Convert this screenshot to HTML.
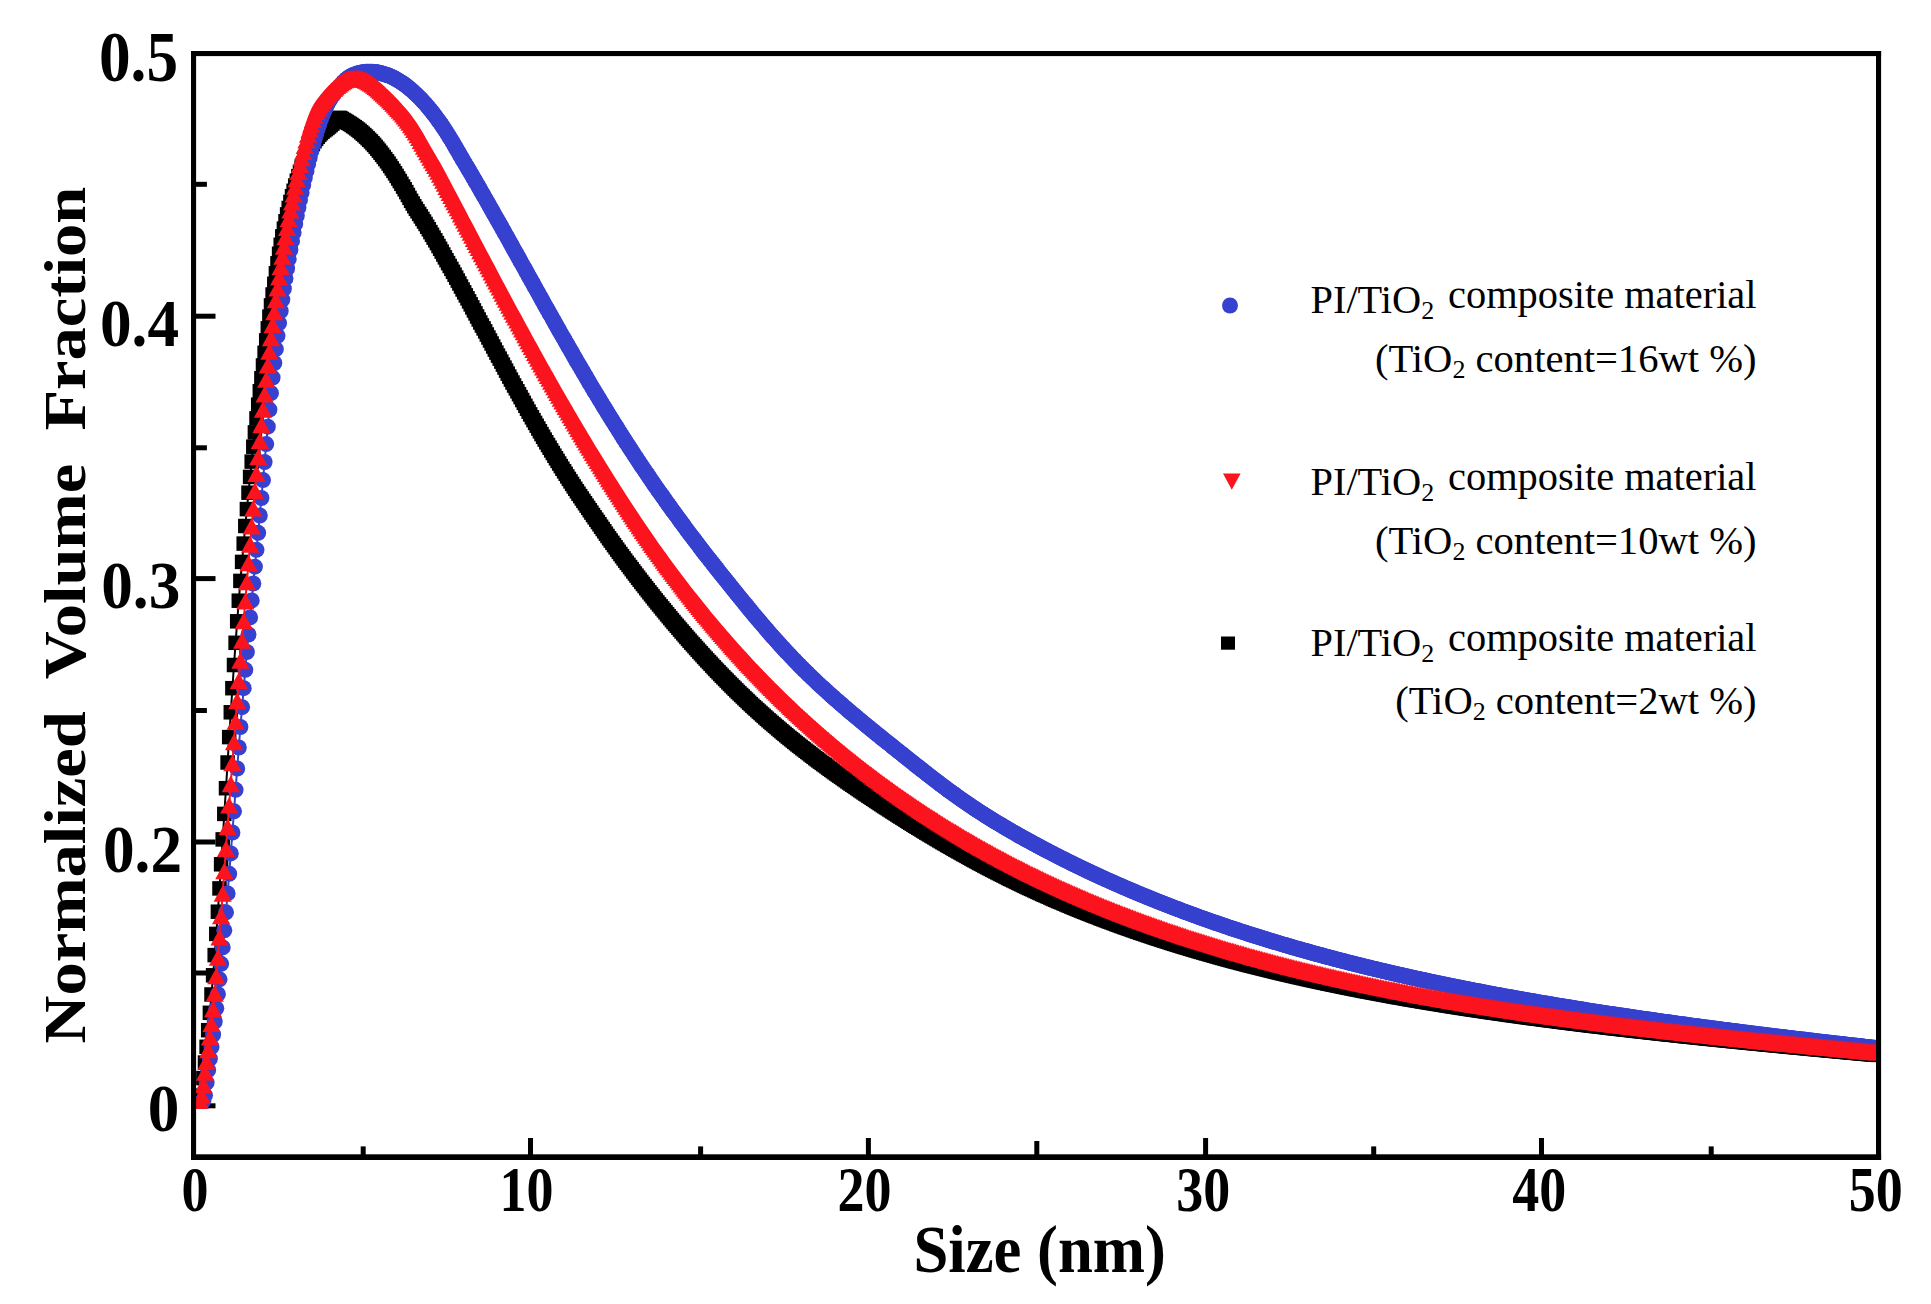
<!DOCTYPE html>
<html><head><meta charset="utf-8"><title>Normalized Volume Fraction vs Size</title>
<style>html,body{margin:0;padding:0;background:#fff}svg{display:block}text{font-family:"Liberation Serif", serif;fill:#000}</style></head><body>
<svg width="1931" height="1304" viewBox="0 0 1931 1304">
<rect x="0" y="0" width="1931" height="1304" fill="#fff"/>
<defs>
<marker id="mk" markerUnits="userSpaceOnUse" markerWidth="14.5" markerHeight="14.5" refX="7.25" refY="7.25" overflow="visible"><rect x="0" y="0" width="14.5" height="14.5" fill="#000"/></marker>
<marker id="mb" markerUnits="userSpaceOnUse" markerWidth="16" markerHeight="16" refX="8" refY="8" overflow="visible"><circle cx="8" cy="8" r="8" fill="#3741cf"/></marker>
<marker id="mr" markerUnits="userSpaceOnUse" markerWidth="18.2" markerHeight="16.6" refX="9.1" refY="7.95" overflow="visible"><path d="M9.1 0 L18.2 16.6 L0 16.6 Z" fill="#fb141e"/></marker>
<clipPath id="cp"><rect x="194" y="54" width="1684" height="1054.8"/></clipPath>
</defs>
<g fill="#000">
<rect x="194" y="313.7" width="21.5" height="5"/>
<rect x="194" y="576.1" width="21.5" height="5"/>
<rect x="194" y="839.5" width="21.5" height="5"/>
<rect x="194" y="1103.3" width="21.5" height="5"/>
<rect x="194" y="181.8" width="12.9" height="5"/>
<rect x="194" y="445.3" width="12.9" height="5"/>
<rect x="194" y="708.0" width="12.9" height="5"/>
<rect x="194" y="970.5" width="12.9" height="5"/>
<rect x="528.0" y="1138" width="5" height="18"/>
<rect x="865.9" y="1138" width="5" height="18"/>
<rect x="1203.1" y="1138" width="5" height="18"/>
<rect x="1539.0" y="1138" width="5" height="18"/>
<rect x="360.7" y="1146.4" width="5" height="10"/>
<rect x="698.1" y="1146.4" width="5" height="10"/>
<rect x="1371.2" y="1146.4" width="5" height="10"/>
<rect x="1708.7" y="1146.4" width="5" height="10"/>
<rect x="1034.3" y="1141" width="5" height="15"/>
</g>
<g clip-path="url(#cp)" fill="none" stroke-linejoin="round" stroke-linecap="round">
<polyline stroke="#000" stroke-width="13" points="300.0,171.7 301.6,167.5 303.2,163.5 304.8,159.7 306.5,156.2 308.1,152.8 309.7,149.7 311.3,146.7 312.9,143.9 314.5,141.2 316.1,138.9 317.7,136.8 319.3,134.9 320.9,133.2 322.6,131.6 324.2,130.3 325.8,129.1 327.4,127.9 329.0,126.5 330.6,125.1 332.2,123.7 333.8,122.2 335.4,120.5 337.0,119.0 338.7,118.0 340.3,118.0 341.9,119.0 343.5,120.0 345.1,120.9 346.7,121.9 348.3,122.9 349.9,123.9 351.5,124.9 353.1,126.1 354.8,127.2 356.4,128.4 358.0,129.6 359.6,130.9 361.2,132.3 362.8,133.7 364.4,135.1 366.0,136.6 367.6,138.2 369.2,139.8 370.9,141.4 372.5,143.2 374.1,144.9 375.7,146.8 377.3,148.7 378.9,150.7 380.5,152.7 382.1,154.8 383.7,156.9 385.3,159.1 387.0,161.3 388.6,163.6 390.2,166.0 391.8,168.4 393.4,170.8 395.0,173.3 396.6,175.9 398.2,178.5 399.8,181.1 401.4,183.8 403.1,186.6 404.7,189.3 406.3,192.1 407.9,195.0 409.5,197.9 411.1,200.8 412.7,203.5 414.3,206.2 415.9,208.8 417.5,211.3 419.2,213.9 420.8,216.4 422.4,218.9 424.0,221.5 425.6,224.0 427.2,226.7 428.8,229.3 430.4,232.1 432.0,234.8 433.6,237.6 435.3,240.3 436.9,243.1 438.5,246.0 440.1,248.8 441.7,251.6 443.3,254.5 444.9,257.4 446.5,260.2 448.1,263.1 449.7,266.0 451.4,268.9 453.0,271.8 454.6,274.7 456.2,277.6 457.8,280.6 459.4,283.5 461.0,286.5 462.6,289.5 464.2,292.4 465.8,295.4 467.5,298.4 469.1,301.4 470.7,304.4 472.3,307.4 473.9,310.4 475.5,313.4 477.1,316.5 478.7,319.5 480.3,322.5 481.9,325.5 483.6,328.4 485.2,331.4 486.8,334.5 488.4,337.5 490.0,340.5 491.6,343.5 493.2,346.5 494.8,349.6 496.4,352.6 498.0,355.6 499.7,358.6 501.3,361.6 502.9,364.6 504.5,367.6 506.1,370.6 507.7,373.6 509.3,376.6 510.9,379.6 512.5,382.5 514.1,385.5 515.8,388.4 517.4,391.3 519.0,394.2 520.6,397.1 522.2,400.0 523.8,402.9 525.4,405.8 527.0,408.7 528.6,411.6 530.2,414.4 531.9,417.3 533.5,420.1 535.1,422.9 536.7,425.7 538.3,428.5 539.9,431.3 541.5,434.1 543.1,436.8 544.7,439.6 546.3,442.3 548.0,445.0 549.6,447.7 551.2,450.4 552.8,453.0 554.4,455.7 556.0,458.3 557.6,460.9 559.2,463.5 560.8,466.1 562.4,468.7 564.1,471.3 565.7,473.8 567.3,476.4 568.9,478.9 570.5,481.4 572.1,483.9 573.7,486.4 575.3,488.8 576.9,491.3 578.5,493.7 580.2,496.1 581.8,498.5 583.4,500.9 585.0,503.2 586.6,505.6 588.2,507.9 589.8,510.3 591.4,512.6 593.0,515.0 594.6,517.3 596.3,519.7 597.9,522.0 599.5,524.3 601.1,526.7 602.7,529.0 604.3,531.3 605.9,533.7 607.5,536.0 609.1,538.3 610.7,540.5 612.4,542.8 614.0,545.1 615.6,547.3 617.2,549.6 618.8,551.8 620.4,554.0 622.0,556.2 623.6,558.4 625.2,560.6 626.8,562.8 628.5,564.9 630.1,567.1 631.7,569.2 633.3,571.4 634.9,573.5 636.5,575.6 638.1,577.7 639.7,579.8 641.3,581.9 642.9,584.0 644.6,586.1 646.2,588.2 647.8,590.2 649.4,592.3 651.0,594.3 652.6,596.3 654.2,598.4 655.8,600.4 657.4,602.4 659.0,604.4 660.7,606.4 662.3,608.4 663.9,610.3 665.5,612.3 667.1,614.3 668.7,616.2 670.3,618.1 671.9,620.1 673.5,622.0 675.1,623.9 676.8,625.8 678.4,627.7 680.0,629.6 681.6,631.5 683.2,633.3 684.8,635.2 686.4,637.0 688.0,638.9 689.6,640.7 691.2,642.6 692.9,644.4 694.5,646.2 696.1,648.0 697.7,649.8 699.3,651.6 700.9,653.3 702.5,655.1 704.1,656.9 705.7,658.6 707.3,660.4 709.0,662.1 710.6,663.8 712.2,665.6 713.8,667.3 715.4,669.0 717.0,670.7 718.6,672.3 720.2,674.0 721.8,675.7 723.4,677.3 725.1,679.0 726.7,680.6 728.3,682.3 729.9,683.9 731.5,685.5 733.1,687.1 734.7,688.7 736.3,690.3 737.9,691.9 739.5,693.4 741.2,695.0 742.8,696.5 744.4,698.1 746.0,699.6 747.6,701.1 749.2,702.7 750.8,704.2 752.4,705.7 754.0,707.2 755.6,708.6 757.3,710.1 758.9,711.6 760.5,713.0 762.1,714.5 763.7,715.9 765.3,717.4 766.9,718.8 768.5,720.2 770.1,721.6 771.7,723.0 773.4,724.4 775.0,725.8 776.6,727.1 778.2,728.5 779.8,729.9 781.4,731.2 783.0,732.6 784.6,733.9 786.2,735.2 787.8,736.6 789.5,737.9 791.1,739.2 792.7,740.5 794.3,741.8 795.9,743.1 797.5,744.4 799.1,745.6 800.7,746.9 802.3,748.2 803.9,749.4 805.6,750.7 807.2,751.9 808.8,753.1 810.4,754.4 812.0,755.6 813.6,756.8 815.2,758.1 816.8,759.3 818.4,760.5 820.0,761.7 821.7,762.9 823.3,764.1 824.9,765.2 826.5,766.4 828.1,767.6 829.7,768.8 831.3,769.9 832.9,771.1 834.5,772.3 836.1,773.4 837.8,774.6 839.4,775.7 841.0,776.8 842.6,778.0 844.2,779.1 845.8,780.2 847.4,781.4 849.0,782.5 850.6,783.6 852.2,784.7 853.9,785.8 855.5,786.9 857.1,788.0 858.7,789.1 860.3,790.2 861.9,791.3 863.5,792.4 865.1,793.5 866.7,794.5 868.3,795.6 870.0,796.7 871.6,797.8 873.2,798.8 874.8,799.9 876.4,801.0 878.0,802.0 879.6,803.1 881.2,804.1 882.8,805.2 884.4,806.3 886.1,807.3 887.7,808.3 889.3,809.4 890.9,810.4 892.5,811.5 894.1,812.5 895.7,813.5 897.3,814.5 898.9,815.6 900.5,816.6 902.2,817.6 903.8,818.6 905.4,819.6 907.0,820.7 908.6,821.7 910.2,822.7 911.8,823.7 913.4,824.7 915.0,825.7 916.6,826.7 918.3,827.7 919.9,828.6 921.5,829.6 923.1,830.6 924.7,831.6 926.3,832.6 927.9,833.5 929.5,834.5 931.1,835.5 932.7,836.4 934.4,837.4 936.0,838.4 937.6,839.3 939.2,840.3 940.8,841.2 942.4,842.2 944.0,843.1 945.6,844.0 947.2,845.0 948.8,845.9 950.5,846.8 952.1,847.8 953.7,848.7 955.3,849.6 956.9,850.5 958.5,851.4 960.1,852.3 961.7,853.2 963.3,854.1 964.9,855.0 966.6,855.9 968.2,856.8 969.8,857.7 971.4,858.6 973.0,859.5 974.6,860.4 976.2,861.2 977.8,862.1 979.4,863.0 981.0,863.8 982.7,864.7 984.3,865.6 985.9,866.4 987.5,867.3 989.1,868.1 990.7,868.9 992.3,869.8 993.9,870.6 995.5,871.4 997.1,872.3 998.8,873.1 1000.4,873.9 1002.0,874.7 1003.6,875.5 1005.2,876.3 1006.8,877.1 1008.4,878.0 1010.0,878.8 1011.6,879.5 1013.2,880.3 1014.9,881.1 1016.5,881.9 1018.1,882.7 1019.7,883.5 1021.3,884.2 1022.9,885.0 1024.5,885.8 1026.1,886.5 1027.7,887.3 1029.3,888.0 1031.0,888.8 1032.6,889.5 1034.2,890.3 1035.8,891.0 1037.4,891.8 1039.0,892.5 1040.6,893.2 1042.2,894.0 1043.8,894.7 1045.4,895.4 1047.1,896.1 1048.7,896.8 1050.3,897.5 1051.9,898.3 1053.5,899.0 1055.1,899.7 1056.7,900.4 1058.3,901.1 1059.9,901.7 1061.5,902.4 1063.2,903.1 1064.8,903.8 1066.4,904.5 1068.0,905.2 1069.6,905.8 1071.2,906.5 1072.8,907.2 1074.4,907.8 1076.0,908.5 1077.6,909.2 1079.3,909.8 1080.9,910.5 1082.5,911.1 1084.1,911.8 1085.7,912.4 1087.3,913.0 1088.9,913.7 1090.5,914.3 1092.1,914.9 1093.7,915.6 1095.4,916.2 1097.0,916.8 1098.6,917.4 1100.2,918.1 1101.8,918.7 1103.4,919.3 1105.0,919.9 1106.6,920.5 1108.2,921.1 1109.8,921.7 1111.5,922.3 1113.1,922.9 1114.7,923.5 1116.3,924.1 1117.9,924.7 1119.5,925.3 1121.1,925.9 1122.7,926.4 1124.3,927.0 1125.9,927.6 1127.6,928.2 1129.2,928.7 1130.8,929.3 1132.4,929.9 1134.0,930.4 1135.6,931.0 1137.2,931.6 1138.8,932.1 1140.4,932.7 1142.0,933.2 1143.7,933.8 1145.3,934.3 1146.9,934.9 1148.5,935.4 1150.1,935.9 1151.7,936.5 1153.3,937.0 1154.9,937.6 1156.5,938.1 1158.1,938.6 1159.8,939.1 1161.4,939.7 1163.0,940.2 1164.6,940.7 1166.2,941.2 1167.8,941.7 1169.4,942.2 1171.0,942.8 1172.6,943.3 1174.2,943.8 1175.9,944.3 1177.5,944.8 1179.1,945.3 1180.7,945.8 1182.3,946.3 1183.9,946.8 1185.5,947.3 1187.1,947.7 1188.7,948.2 1190.3,948.7 1192.0,949.2 1193.6,949.7 1195.2,950.2 1196.8,950.6 1198.4,951.1 1200.0,951.6 1201.6,952.0 1203.2,952.5 1204.8,953.0 1206.4,953.4 1208.1,953.9 1209.7,954.4 1211.3,954.8 1212.9,955.3 1214.5,955.7 1216.1,956.2 1217.7,956.6 1219.3,957.1 1220.9,957.5 1222.5,958.0 1224.2,958.4 1225.8,958.9 1227.4,959.3 1229.0,959.8 1230.6,960.2 1232.2,960.6 1233.8,961.1 1235.4,961.5 1237.0,961.9 1238.6,962.3 1240.3,962.8 1241.9,963.2 1243.5,963.6 1245.1,964.0 1246.7,964.5 1248.3,964.9 1249.9,965.3 1251.5,965.7 1253.1,966.1 1254.7,966.5 1256.4,966.9 1258.0,967.3 1259.6,967.7 1261.2,968.1 1262.8,968.5 1264.4,968.9 1266.0,969.3 1267.6,969.7 1269.2,970.1 1270.8,970.5 1272.5,970.9 1274.1,971.3 1275.7,971.7 1277.3,972.1 1278.9,972.5 1280.5,972.9 1282.1,973.2 1283.7,973.6 1285.3,974.0 1286.9,974.4 1288.6,974.8 1290.2,975.1 1291.8,975.5 1293.4,975.9 1295.0,976.2 1296.6,976.6 1298.2,977.0 1299.8,977.3 1301.4,977.7 1303.0,978.1 1304.7,978.4 1306.3,978.8 1307.9,979.2 1309.5,979.5 1311.1,979.9 1312.7,980.2 1314.3,980.6 1315.9,980.9 1317.5,981.3 1319.1,981.6 1320.8,982.0 1322.4,982.3 1324.0,982.7 1325.6,983.0 1327.2,983.4 1328.8,983.7 1330.4,984.0 1332.0,984.4 1333.6,984.7 1335.2,985.0 1336.9,985.4 1338.5,985.7 1340.1,986.0 1341.7,986.4 1343.3,986.7 1344.9,987.0 1346.5,987.4 1348.1,987.7 1349.7,988.0 1351.3,988.3 1353.0,988.6 1354.6,989.0 1356.2,989.3 1357.8,989.6 1359.4,989.9 1361.0,990.2 1362.6,990.6 1364.2,990.9 1365.8,991.2 1367.4,991.5 1369.1,991.8 1370.7,992.1 1372.3,992.4 1373.9,992.7 1375.5,993.0 1377.1,993.3 1378.7,993.6 1380.3,993.9 1381.9,994.2 1383.5,994.5 1385.2,994.8 1386.8,995.1 1388.4,995.4 1390.0,995.7 1391.6,996.0 1393.2,996.3 1394.8,996.6 1396.4,996.9 1398.0,997.2 1399.6,997.4 1401.3,997.7 1402.9,998.0 1404.5,998.3 1406.1,998.6 1407.7,998.9 1409.3,999.2 1410.9,999.4 1412.5,999.7 1414.1,1000.0 1415.7,1000.3 1417.4,1000.5 1419.0,1000.8 1420.6,1001.1 1422.2,1001.4 1423.8,1001.6 1425.4,1001.9 1427.0,1002.2 1428.6,1002.4 1430.2,1002.7 1431.8,1003.0 1433.5,1003.2 1435.1,1003.5 1436.7,1003.8 1438.3,1004.0 1439.9,1004.3 1441.5,1004.6 1443.1,1004.8 1444.7,1005.1 1446.3,1005.3 1447.9,1005.6 1449.6,1005.9 1451.2,1006.1 1452.8,1006.4 1454.4,1006.6 1456.0,1006.9 1457.6,1007.1 1459.2,1007.4 1460.8,1007.6 1462.4,1007.9 1464.0,1008.1 1465.7,1008.4 1467.3,1008.6 1468.9,1008.9 1470.5,1009.1 1472.1,1009.4 1473.7,1009.6 1475.3,1009.8 1476.9,1010.1 1478.5,1010.3 1480.1,1010.6 1481.8,1010.8 1483.4,1011.0 1485.0,1011.3 1486.6,1011.5 1488.2,1011.8 1489.8,1012.0 1491.4,1012.2 1493.0,1012.5 1494.6,1012.7 1496.2,1012.9 1497.9,1013.2 1499.5,1013.4 1501.1,1013.6 1502.7,1013.8 1504.3,1014.1 1505.9,1014.3 1507.5,1014.5 1509.1,1014.8 1510.7,1015.0 1512.3,1015.2 1514.0,1015.4 1515.6,1015.7 1517.2,1015.9 1518.8,1016.1 1520.4,1016.3 1522.0,1016.5 1523.6,1016.8 1525.2,1017.0 1526.8,1017.2 1528.4,1017.4 1530.1,1017.6 1531.7,1017.9 1533.3,1018.1 1534.9,1018.3 1536.5,1018.5 1538.1,1018.7 1539.7,1018.9 1541.3,1019.1 1542.9,1019.4 1544.5,1019.6 1546.2,1019.8 1547.8,1020.0 1549.4,1020.2 1551.0,1020.4 1552.6,1020.6 1554.2,1020.8 1555.8,1021.0 1557.4,1021.2 1559.0,1021.5 1560.6,1021.7 1562.3,1021.9 1563.9,1022.1 1565.5,1022.3 1567.1,1022.5 1568.7,1022.7 1570.3,1022.9 1571.9,1023.1 1573.5,1023.3 1575.1,1023.5 1576.7,1023.7 1578.4,1023.9 1580.0,1024.1 1581.6,1024.3 1583.2,1024.5 1584.8,1024.7 1586.4,1024.9 1588.0,1025.1 1589.6,1025.3 1591.2,1025.5 1592.8,1025.7 1594.5,1025.9 1596.1,1026.1 1597.7,1026.2 1599.3,1026.4 1600.9,1026.6 1602.5,1026.8 1604.1,1027.0 1605.7,1027.2 1607.3,1027.4 1608.9,1027.6 1610.6,1027.8 1612.2,1028.0 1613.8,1028.2 1615.4,1028.3 1617.0,1028.5 1618.6,1028.7 1620.2,1028.9 1621.8,1029.1 1623.4,1029.3 1625.0,1029.5 1626.7,1029.7 1628.3,1029.8 1629.9,1030.0 1631.5,1030.2 1633.1,1030.4 1634.7,1030.6 1636.3,1030.8 1637.9,1030.9 1639.5,1031.1 1641.1,1031.3 1642.8,1031.5 1644.4,1031.7 1646.0,1031.8 1647.6,1032.0 1649.2,1032.2 1650.8,1032.4 1652.4,1032.6 1654.0,1032.7 1655.6,1032.9 1657.2,1033.1 1658.9,1033.3 1660.5,1033.4 1662.1,1033.6 1663.7,1033.8 1665.3,1034.0 1666.9,1034.2 1668.5,1034.3 1670.1,1034.5 1671.7,1034.7 1673.3,1034.8 1675.0,1035.0 1676.6,1035.2 1678.2,1035.4 1679.8,1035.5 1681.4,1035.7 1683.0,1035.9 1684.6,1036.1 1686.2,1036.2 1687.8,1036.4 1689.4,1036.6 1691.1,1036.7 1692.7,1036.9 1694.3,1037.1 1695.9,1037.2 1697.5,1037.4 1699.1,1037.6 1700.7,1037.8 1702.3,1037.9 1703.9,1038.1 1705.5,1038.3 1707.2,1038.4 1708.8,1038.6 1710.4,1038.8 1712.0,1038.9 1713.6,1039.1 1715.2,1039.3 1716.8,1039.4 1718.4,1039.6 1720.0,1039.8 1721.6,1039.9 1723.3,1040.1 1724.9,1040.2 1726.5,1040.4 1728.1,1040.6 1729.7,1040.7 1731.3,1040.9 1732.9,1041.1 1734.5,1041.2 1736.1,1041.4 1737.7,1041.5 1739.4,1041.7 1741.0,1041.9 1742.6,1042.0 1744.2,1042.2 1745.8,1042.4 1747.4,1042.5 1749.0,1042.7 1750.6,1042.8 1752.2,1043.0 1753.8,1043.2 1755.5,1043.3 1757.1,1043.5 1758.7,1043.6 1760.3,1043.8 1761.9,1043.9 1763.5,1044.1 1765.1,1044.3 1766.7,1044.4 1768.3,1044.6 1769.9,1044.7 1771.6,1044.9 1773.2,1045.0 1774.8,1045.2 1776.4,1045.4 1778.0,1045.5 1779.6,1045.7 1781.2,1045.8 1782.8,1046.0 1784.4,1046.1 1786.0,1046.3 1787.7,1046.4 1789.3,1046.6 1790.9,1046.8 1792.5,1046.9 1794.1,1047.1 1795.7,1047.2 1797.3,1047.4 1798.9,1047.5 1800.5,1047.7 1802.1,1047.8 1803.8,1048.0 1805.4,1048.1 1807.0,1048.3 1808.6,1048.4 1810.2,1048.6 1811.8,1048.8 1813.4,1048.9 1815.0,1049.1 1816.6,1049.2 1818.2,1049.4 1819.9,1049.5 1821.5,1049.7 1823.1,1049.8 1824.7,1050.0 1826.3,1050.1 1827.9,1050.3 1829.5,1050.4 1831.1,1050.6 1832.7,1050.7 1834.3,1050.9 1836.0,1051.0 1837.6,1051.2 1839.2,1051.3 1840.8,1051.5 1842.4,1051.6 1844.0,1051.8 1845.6,1051.9 1847.2,1052.1 1848.8,1052.2 1850.4,1052.4 1852.1,1052.5 1853.7,1052.7 1855.3,1052.8 1856.9,1053.0 1858.5,1053.1 1860.1,1053.3 1861.7,1053.4 1863.3,1053.6 1864.9,1053.7 1866.5,1053.9 1868.2,1054.0 1869.8,1054.1 1871.4,1054.3 1873.0,1054.4 1874.6,1054.6 1876.2,1054.7 1877.8,1054.9"/>
<polyline stroke="#000" stroke-width="2" marker-start="url(#mk)" marker-mid="url(#mk)" marker-end="url(#mk)" points="193.8,1105.5 195.4,1105.4 197.0,1104.9 198.6,1103.7 200.2,1101.6 201.8,1095.7 203.4,1078.1 205.0,1062.6 206.6,1046.8 208.2,1030.2 209.9,1012.8 211.5,994.5 213.1,975.3 214.7,955.1 216.3,933.9 217.9,911.7 219.5,888.4 221.1,864.3 222.7,839.4 224.3,813.9 226.0,788.2 227.6,762.5 229.2,737.1 230.8,712.3 232.4,688.2 234.0,665.0 235.6,642.8 237.2,621.3 238.8,600.7 240.4,580.9 242.1,561.9 243.7,543.6 245.3,526.0 246.9,509.1 248.5,492.7 250.1,476.9 251.7,461.6 253.3,446.7 254.9,432.4 256.5,418.4 258.2,404.7 259.8,391.3 261.4,378.3 263.0,365.5 264.6,352.8 266.2,340.4 267.8,328.3 269.4,316.6 271.0,305.4 272.6,294.5 274.3,283.8 275.9,273.3 277.5,263.3 279.1,253.8 280.7,244.8 282.3,236.4 283.9,228.6 285.5,221.3 287.1,214.4 288.7,208.0 290.4,201.9 292.0,196.2 293.6,190.8 295.2,185.6 296.8,180.7 298.4,176.1 300.0,171.7 301.6,167.5 303.2,163.5 304.8,159.7 306.5,156.2 308.1,152.8 309.7,149.7 311.3,146.7 312.9,143.9 314.5,141.2 316.1,138.9 317.7,136.8 319.3,134.9 320.9,133.2 322.6,131.6 324.2,130.3 325.8,129.1 327.4,127.9 329.0,126.5 330.6,125.1 332.2,123.7 333.8,122.2 335.4,120.5 337.0,119.0 338.7,118.0 340.3,118.0 341.9,119.0 343.5,120.0 345.1,120.9 346.7,121.9 348.3,122.9 349.9,123.9 351.5,124.9 353.1,126.1 354.8,127.2 356.4,128.4 358.0,129.6 359.6,130.9 361.2,132.3 362.8,133.7 364.4,135.1 366.0,136.6 367.6,138.2 369.2,139.8 370.9,141.4 372.5,143.2 374.1,144.9 375.7,146.8 377.3,148.7 378.9,150.7 380.5,152.7 382.1,154.8 383.7,156.9 385.3,159.1 387.0,161.3 388.6,163.6 390.2,166.0 391.8,168.4 393.4,170.8 395.0,173.3 396.6,175.9 398.2,178.5 399.8,181.1 401.4,183.8 403.1,186.6 404.7,189.3 406.3,192.1 407.9,195.0 409.5,197.9 411.1,200.8 412.7,203.5 414.3,206.2 415.9,208.8 417.5,211.3 419.2,213.9 420.8,216.4 422.4,218.9 424.0,221.5 425.6,224.0 427.2,226.7 428.8,229.3 430.4,232.1 432.0,234.8 433.6,237.6 435.3,240.3 436.9,243.1 438.5,246.0 440.1,248.8 441.7,251.6 443.3,254.5 444.9,257.4 446.5,260.2 448.1,263.1 449.7,266.0 451.4,268.9 453.0,271.8 454.6,274.7 456.2,277.6 457.8,280.6 459.4,283.5 461.0,286.5 462.6,289.5 464.2,292.4 465.8,295.4 467.5,298.4 469.1,301.4 470.7,304.4 472.3,307.4 473.9,310.4 475.5,313.4 477.1,316.5 478.7,319.5 480.3,322.5 481.9,325.5 483.6,328.4 485.2,331.4 486.8,334.5 488.4,337.5 490.0,340.5 491.6,343.5 493.2,346.5 494.8,349.6 496.4,352.6 498.0,355.6 499.7,358.6 501.3,361.6 502.9,364.6 504.5,367.6 506.1,370.6 507.7,373.6 509.3,376.6 510.9,379.6 512.5,382.5 514.1,385.5 515.8,388.4 517.4,391.3 519.0,394.2 520.6,397.1 522.2,400.0 523.8,402.9 525.4,405.8 527.0,408.7 528.6,411.6 530.2,414.4 531.9,417.3 533.5,420.1 535.1,422.9 536.7,425.7 538.3,428.5 539.9,431.3 541.5,434.1 543.1,436.8 544.7,439.6 546.3,442.3 548.0,445.0 549.6,447.7 551.2,450.4 552.8,453.0 554.4,455.7 556.0,458.3 557.6,460.9 559.2,463.5 560.8,466.1 562.4,468.7 564.1,471.3 565.7,473.8 567.3,476.4 568.9,478.9 570.5,481.4 572.1,483.9 573.7,486.4 575.3,488.8 576.9,491.3 578.5,493.7 580.2,496.1 581.8,498.5 583.4,500.9 585.0,503.2 586.6,505.6 588.2,507.9 589.8,510.3 591.4,512.6 593.0,515.0 594.6,517.3 596.3,519.7 597.9,522.0 599.5,524.3 601.1,526.7 602.7,529.0 604.3,531.3 605.9,533.7 607.5,536.0 609.1,538.3 610.7,540.5 612.4,542.8 614.0,545.1 615.6,547.3 617.2,549.6 618.8,551.8 620.4,554.0 622.0,556.2 623.6,558.4 625.2,560.6 626.8,562.8 628.5,564.9 630.1,567.1 631.7,569.2 633.3,571.4 634.9,573.5 636.5,575.6 638.1,577.7 639.7,579.8 641.3,581.9 642.9,584.0 644.6,586.1 646.2,588.2 647.8,590.2 649.4,592.3 651.0,594.3 652.6,596.3 654.2,598.4 655.8,600.4 657.4,602.4 659.0,604.4 660.7,606.4 662.3,608.4 663.9,610.3 665.5,612.3 667.1,614.3 668.7,616.2 670.3,618.1 671.9,620.1 673.5,622.0 675.1,623.9 676.8,625.8 678.4,627.7 680.0,629.6 681.6,631.5 683.2,633.3 684.8,635.2 686.4,637.0 688.0,638.9 689.6,640.7 691.2,642.6 692.9,644.4 694.5,646.2 696.1,648.0 697.7,649.8 699.3,651.6 700.9,653.3 702.5,655.1 704.1,656.9 705.7,658.6 707.3,660.4 709.0,662.1 710.6,663.8 712.2,665.6 713.8,667.3 715.4,669.0 717.0,670.7 718.6,672.3 720.2,674.0 721.8,675.7 723.4,677.3 725.1,679.0 726.7,680.6 728.3,682.3 729.9,683.9 731.5,685.5 733.1,687.1 734.7,688.7 736.3,690.3 737.9,691.9 739.5,693.4 741.2,695.0 742.8,696.5 744.4,698.1 746.0,699.6 747.6,701.1 749.2,702.7 750.8,704.2 752.4,705.7 754.0,707.2 755.6,708.6 757.3,710.1 758.9,711.6 760.5,713.0 762.1,714.5 763.7,715.9 765.3,717.4 766.9,718.8 768.5,720.2 770.1,721.6 771.7,723.0 773.4,724.4 775.0,725.8 776.6,727.1 778.2,728.5 779.8,729.9 781.4,731.2 783.0,732.6 784.6,733.9 786.2,735.2 787.8,736.6 789.5,737.9 791.1,739.2 792.7,740.5 794.3,741.8 795.9,743.1 797.5,744.4 799.1,745.6 800.7,746.9 802.3,748.2 803.9,749.4 805.6,750.7 807.2,751.9 808.8,753.1 810.4,754.4 812.0,755.6 813.6,756.8 815.2,758.1 816.8,759.3 818.4,760.5 820.0,761.7 821.7,762.9 823.3,764.1 824.9,765.2 826.5,766.4 828.1,767.6 829.7,768.8 831.3,769.9 832.9,771.1 834.5,772.3 836.1,773.4 837.8,774.6 839.4,775.7 841.0,776.8 842.6,778.0 844.2,779.1 845.8,780.2 847.4,781.4 849.0,782.5 850.6,783.6 852.2,784.7 853.9,785.8 855.5,786.9 857.1,788.0 858.7,789.1 860.3,790.2 861.9,791.3 863.5,792.4 865.1,793.5 866.7,794.5 868.3,795.6 870.0,796.7 871.6,797.8 873.2,798.8 874.8,799.9 876.4,801.0 878.0,802.0 879.6,803.1 881.2,804.1 882.8,805.2 884.4,806.3 886.1,807.3 887.7,808.3 889.3,809.4 890.9,810.4 892.5,811.5 894.1,812.5 895.7,813.5 897.3,814.5 898.9,815.6 900.5,816.6 902.2,817.6 903.8,818.6 905.4,819.6 907.0,820.7 908.6,821.7 910.2,822.7 911.8,823.7 913.4,824.7 915.0,825.7 916.6,826.7 918.3,827.7 919.9,828.6 921.5,829.6 923.1,830.6 924.7,831.6 926.3,832.6 927.9,833.5 929.5,834.5 931.1,835.5 932.7,836.4 934.4,837.4 936.0,838.4 937.6,839.3 939.2,840.3 940.8,841.2 942.4,842.2 944.0,843.1 945.6,844.0 947.2,845.0 948.8,845.9 950.5,846.8 952.1,847.8 953.7,848.7 955.3,849.6 956.9,850.5 958.5,851.4 960.1,852.3 961.7,853.2 963.3,854.1 964.9,855.0 966.6,855.9 968.2,856.8 969.8,857.7 971.4,858.6 973.0,859.5 974.6,860.4 976.2,861.2 977.8,862.1 979.4,863.0 981.0,863.8 982.7,864.7 984.3,865.6 985.9,866.4 987.5,867.3 989.1,868.1 990.7,868.9 992.3,869.8 993.9,870.6 995.5,871.4 997.1,872.3 998.8,873.1 1000.4,873.9 1002.0,874.7 1003.6,875.5 1005.2,876.3 1006.8,877.1 1008.4,878.0 1010.0,878.8 1011.6,879.5 1013.2,880.3 1014.9,881.1 1016.5,881.9 1018.1,882.7 1019.7,883.5 1021.3,884.2 1022.9,885.0 1024.5,885.8 1026.1,886.5 1027.7,887.3 1029.3,888.0 1031.0,888.8 1032.6,889.5 1034.2,890.3 1035.8,891.0 1037.4,891.8 1039.0,892.5 1040.6,893.2 1042.2,894.0 1043.8,894.7 1045.4,895.4 1047.1,896.1 1048.7,896.8 1050.3,897.5 1051.9,898.3 1053.5,899.0 1055.1,899.7 1056.7,900.4 1058.3,901.1 1059.9,901.7 1061.5,902.4 1063.2,903.1 1064.8,903.8 1066.4,904.5 1068.0,905.2 1069.6,905.8 1071.2,906.5 1072.8,907.2 1074.4,907.8 1076.0,908.5 1077.6,909.2 1079.3,909.8 1080.9,910.5 1082.5,911.1 1084.1,911.8 1085.7,912.4 1087.3,913.0 1088.9,913.7 1090.5,914.3 1092.1,914.9 1093.7,915.6 1095.4,916.2 1097.0,916.8 1098.6,917.4 1100.2,918.1 1101.8,918.7 1103.4,919.3 1105.0,919.9 1106.6,920.5 1108.2,921.1 1109.8,921.7 1111.5,922.3 1113.1,922.9 1114.7,923.5 1116.3,924.1 1117.9,924.7 1119.5,925.3 1121.1,925.9 1122.7,926.4 1124.3,927.0 1125.9,927.6 1127.6,928.2 1129.2,928.7 1130.8,929.3 1132.4,929.9 1134.0,930.4 1135.6,931.0 1137.2,931.6 1138.8,932.1 1140.4,932.7 1142.0,933.2 1143.7,933.8 1145.3,934.3 1146.9,934.9 1148.5,935.4 1150.1,935.9 1151.7,936.5 1153.3,937.0 1154.9,937.6 1156.5,938.1 1158.1,938.6 1159.8,939.1 1161.4,939.7 1163.0,940.2 1164.6,940.7 1166.2,941.2 1167.8,941.7 1169.4,942.2 1171.0,942.8 1172.6,943.3 1174.2,943.8 1175.9,944.3 1177.5,944.8 1179.1,945.3 1180.7,945.8 1182.3,946.3 1183.9,946.8 1185.5,947.3 1187.1,947.7 1188.7,948.2 1190.3,948.7 1192.0,949.2 1193.6,949.7 1195.2,950.2 1196.8,950.6 1198.4,951.1 1200.0,951.6 1201.6,952.0 1203.2,952.5 1204.8,953.0 1206.4,953.4 1208.1,953.9 1209.7,954.4 1211.3,954.8 1212.9,955.3 1214.5,955.7 1216.1,956.2 1217.7,956.6 1219.3,957.1 1220.9,957.5 1222.5,958.0 1224.2,958.4 1225.8,958.9 1227.4,959.3 1229.0,959.8 1230.6,960.2 1232.2,960.6 1233.8,961.1 1235.4,961.5 1237.0,961.9 1238.6,962.3 1240.3,962.8 1241.9,963.2 1243.5,963.6 1245.1,964.0 1246.7,964.5 1248.3,964.9 1249.9,965.3 1251.5,965.7 1253.1,966.1 1254.7,966.5 1256.4,966.9 1258.0,967.3 1259.6,967.7 1261.2,968.1 1262.8,968.5 1264.4,968.9 1266.0,969.3 1267.6,969.7 1269.2,970.1 1270.8,970.5 1272.5,970.9 1274.1,971.3 1275.7,971.7 1277.3,972.1 1278.9,972.5 1280.5,972.9 1282.1,973.2 1283.7,973.6 1285.3,974.0 1286.9,974.4 1288.6,974.8 1290.2,975.1 1291.8,975.5 1293.4,975.9 1295.0,976.2 1296.6,976.6 1298.2,977.0 1299.8,977.3 1301.4,977.7 1303.0,978.1 1304.7,978.4 1306.3,978.8 1307.9,979.2 1309.5,979.5 1311.1,979.9 1312.7,980.2 1314.3,980.6 1315.9,980.9 1317.5,981.3 1319.1,981.6 1320.8,982.0 1322.4,982.3 1324.0,982.7 1325.6,983.0 1327.2,983.4 1328.8,983.7 1330.4,984.0 1332.0,984.4 1333.6,984.7 1335.2,985.0 1336.9,985.4 1338.5,985.7 1340.1,986.0 1341.7,986.4 1343.3,986.7 1344.9,987.0 1346.5,987.4 1348.1,987.7 1349.7,988.0 1351.3,988.3 1353.0,988.6 1354.6,989.0 1356.2,989.3 1357.8,989.6 1359.4,989.9 1361.0,990.2 1362.6,990.6 1364.2,990.9 1365.8,991.2 1367.4,991.5 1369.1,991.8 1370.7,992.1 1372.3,992.4 1373.9,992.7 1375.5,993.0 1377.1,993.3 1378.7,993.6 1380.3,993.9 1381.9,994.2 1383.5,994.5 1385.2,994.8 1386.8,995.1 1388.4,995.4 1390.0,995.7 1391.6,996.0 1393.2,996.3 1394.8,996.6 1396.4,996.9 1398.0,997.2 1399.6,997.4 1401.3,997.7 1402.9,998.0 1404.5,998.3 1406.1,998.6 1407.7,998.9 1409.3,999.2 1410.9,999.4 1412.5,999.7 1414.1,1000.0 1415.7,1000.3 1417.4,1000.5 1419.0,1000.8 1420.6,1001.1 1422.2,1001.4 1423.8,1001.6 1425.4,1001.9 1427.0,1002.2 1428.6,1002.4 1430.2,1002.7 1431.8,1003.0 1433.5,1003.2 1435.1,1003.5 1436.7,1003.8 1438.3,1004.0 1439.9,1004.3 1441.5,1004.6 1443.1,1004.8 1444.7,1005.1 1446.3,1005.3 1447.9,1005.6 1449.6,1005.9 1451.2,1006.1 1452.8,1006.4 1454.4,1006.6 1456.0,1006.9 1457.6,1007.1 1459.2,1007.4 1460.8,1007.6 1462.4,1007.9 1464.0,1008.1 1465.7,1008.4 1467.3,1008.6 1468.9,1008.9 1470.5,1009.1 1472.1,1009.4 1473.7,1009.6 1475.3,1009.8 1476.9,1010.1 1478.5,1010.3 1480.1,1010.6 1481.8,1010.8 1483.4,1011.0 1485.0,1011.3 1486.6,1011.5 1488.2,1011.8 1489.8,1012.0 1491.4,1012.2 1493.0,1012.5 1494.6,1012.7 1496.2,1012.9 1497.9,1013.2 1499.5,1013.4 1501.1,1013.6 1502.7,1013.8 1504.3,1014.1 1505.9,1014.3 1507.5,1014.5 1509.1,1014.8 1510.7,1015.0 1512.3,1015.2 1514.0,1015.4 1515.6,1015.7 1517.2,1015.9 1518.8,1016.1 1520.4,1016.3 1522.0,1016.5 1523.6,1016.8 1525.2,1017.0 1526.8,1017.2 1528.4,1017.4 1530.1,1017.6 1531.7,1017.9 1533.3,1018.1 1534.9,1018.3 1536.5,1018.5 1538.1,1018.7 1539.7,1018.9 1541.3,1019.1 1542.9,1019.4 1544.5,1019.6 1546.2,1019.8 1547.8,1020.0 1549.4,1020.2 1551.0,1020.4 1552.6,1020.6 1554.2,1020.8 1555.8,1021.0 1557.4,1021.2 1559.0,1021.5 1560.6,1021.7 1562.3,1021.9 1563.9,1022.1 1565.5,1022.3 1567.1,1022.5 1568.7,1022.7 1570.3,1022.9 1571.9,1023.1 1573.5,1023.3 1575.1,1023.5 1576.7,1023.7 1578.4,1023.9 1580.0,1024.1 1581.6,1024.3 1583.2,1024.5 1584.8,1024.7 1586.4,1024.9 1588.0,1025.1 1589.6,1025.3 1591.2,1025.5 1592.8,1025.7 1594.5,1025.9 1596.1,1026.1 1597.7,1026.2 1599.3,1026.4 1600.9,1026.6 1602.5,1026.8 1604.1,1027.0 1605.7,1027.2 1607.3,1027.4 1608.9,1027.6 1610.6,1027.8 1612.2,1028.0 1613.8,1028.2 1615.4,1028.3 1617.0,1028.5 1618.6,1028.7 1620.2,1028.9 1621.8,1029.1 1623.4,1029.3 1625.0,1029.5 1626.7,1029.7 1628.3,1029.8 1629.9,1030.0 1631.5,1030.2 1633.1,1030.4 1634.7,1030.6 1636.3,1030.8 1637.9,1030.9 1639.5,1031.1 1641.1,1031.3 1642.8,1031.5 1644.4,1031.7 1646.0,1031.8 1647.6,1032.0 1649.2,1032.2 1650.8,1032.4 1652.4,1032.6 1654.0,1032.7 1655.6,1032.9 1657.2,1033.1 1658.9,1033.3 1660.5,1033.4 1662.1,1033.6 1663.7,1033.8 1665.3,1034.0 1666.9,1034.2 1668.5,1034.3 1670.1,1034.5 1671.7,1034.7 1673.3,1034.8 1675.0,1035.0 1676.6,1035.2 1678.2,1035.4 1679.8,1035.5 1681.4,1035.7 1683.0,1035.9 1684.6,1036.1 1686.2,1036.2 1687.8,1036.4 1689.4,1036.6 1691.1,1036.7 1692.7,1036.9 1694.3,1037.1 1695.9,1037.2 1697.5,1037.4 1699.1,1037.6 1700.7,1037.8 1702.3,1037.9 1703.9,1038.1 1705.5,1038.3 1707.2,1038.4 1708.8,1038.6 1710.4,1038.8 1712.0,1038.9 1713.6,1039.1 1715.2,1039.3 1716.8,1039.4 1718.4,1039.6 1720.0,1039.8 1721.6,1039.9 1723.3,1040.1 1724.9,1040.2 1726.5,1040.4 1728.1,1040.6 1729.7,1040.7 1731.3,1040.9 1732.9,1041.1 1734.5,1041.2 1736.1,1041.4 1737.7,1041.5 1739.4,1041.7 1741.0,1041.9 1742.6,1042.0 1744.2,1042.2 1745.8,1042.4 1747.4,1042.5 1749.0,1042.7 1750.6,1042.8 1752.2,1043.0 1753.8,1043.2 1755.5,1043.3 1757.1,1043.5 1758.7,1043.6 1760.3,1043.8 1761.9,1043.9 1763.5,1044.1 1765.1,1044.3 1766.7,1044.4 1768.3,1044.6 1769.9,1044.7 1771.6,1044.9 1773.2,1045.0 1774.8,1045.2 1776.4,1045.4 1778.0,1045.5 1779.6,1045.7 1781.2,1045.8 1782.8,1046.0 1784.4,1046.1 1786.0,1046.3 1787.7,1046.4 1789.3,1046.6 1790.9,1046.8 1792.5,1046.9 1794.1,1047.1 1795.7,1047.2 1797.3,1047.4 1798.9,1047.5 1800.5,1047.7 1802.1,1047.8 1803.8,1048.0 1805.4,1048.1 1807.0,1048.3 1808.6,1048.4 1810.2,1048.6 1811.8,1048.8 1813.4,1048.9 1815.0,1049.1 1816.6,1049.2 1818.2,1049.4 1819.9,1049.5 1821.5,1049.7 1823.1,1049.8 1824.7,1050.0 1826.3,1050.1 1827.9,1050.3 1829.5,1050.4 1831.1,1050.6 1832.7,1050.7 1834.3,1050.9 1836.0,1051.0 1837.6,1051.2 1839.2,1051.3 1840.8,1051.5 1842.4,1051.6 1844.0,1051.8 1845.6,1051.9 1847.2,1052.1 1848.8,1052.2 1850.4,1052.4 1852.1,1052.5 1853.7,1052.7 1855.3,1052.8 1856.9,1053.0 1858.5,1053.1 1860.1,1053.3 1861.7,1053.4 1863.3,1053.6 1864.9,1053.7 1866.5,1053.9 1868.2,1054.0 1869.8,1054.1 1871.4,1054.3 1873.0,1054.4 1874.6,1054.6 1876.2,1054.7 1877.8,1054.9"/>
<polyline stroke="#3741cf" stroke-width="15" points="312.9,145.2 314.5,139.3 316.1,133.9 317.7,128.7 319.3,123.9 320.9,119.3 322.6,115.1 324.2,111.2 325.8,107.6 327.4,104.3 329.0,101.3 330.6,98.6 332.2,96.1 333.8,93.8 335.4,91.6 337.0,89.5 338.7,87.6 340.3,85.6 341.9,83.8 343.5,82.0 345.1,80.4 346.7,79.0 348.3,77.7 349.9,76.7 351.5,75.8 353.1,75.0 354.8,74.4 356.4,73.8 358.0,73.3 359.6,72.9 361.2,72.6 362.8,72.2 364.4,72.0 366.0,71.8 367.6,71.8 369.2,71.8 370.9,71.8 372.5,71.8 374.1,71.9 375.7,72.1 377.3,72.3 378.9,72.7 380.5,73.1 382.1,73.5 383.7,74.0 385.3,74.5 387.0,75.0 388.6,75.5 390.2,76.2 391.8,76.9 393.4,77.7 395.0,78.6 396.6,79.5 398.2,80.4 399.8,81.4 401.4,82.4 403.1,83.5 404.7,84.6 406.3,85.8 407.9,87.1 409.5,88.4 411.1,89.8 412.7,91.2 414.3,92.7 415.9,94.1 417.5,95.6 419.2,97.3 420.8,98.9 422.4,100.6 424.0,102.4 425.6,104.2 427.2,106.1 428.8,108.0 430.4,109.9 432.0,111.9 433.6,114.0 435.3,116.1 436.9,118.3 438.5,120.5 440.1,122.7 441.7,125.0 443.3,127.4 444.9,129.8 446.5,132.3 448.1,134.8 449.7,137.5 451.4,140.1 453.0,142.9 454.6,145.6 456.2,148.4 457.8,151.2 459.4,154.0 461.0,156.7 462.6,159.5 464.2,162.2 465.8,164.9 467.5,167.7 469.1,170.4 470.7,173.2 472.3,175.9 473.9,178.7 475.5,181.5 477.1,184.2 478.7,187.0 480.3,189.8 481.9,192.6 483.6,195.5 485.2,198.3 486.8,201.1 488.4,203.9 490.0,206.8 491.6,209.6 493.2,212.5 494.8,215.3 496.4,218.2 498.0,221.0 499.7,223.9 501.3,226.7 502.9,229.6 504.5,232.5 506.1,235.3 507.7,238.2 509.3,241.1 510.9,244.0 512.5,246.9 514.1,249.8 515.8,252.7 517.4,255.6 519.0,258.5 520.6,261.4 522.2,264.3 523.8,267.1 525.4,270.0 527.0,272.9 528.6,275.8 530.2,278.7 531.9,281.6 533.5,284.5 535.1,287.4 536.7,290.3 538.3,293.2 539.9,296.1 541.5,299.0 543.1,301.9 544.7,304.8 546.3,307.6 548.0,310.5 549.6,313.4 551.2,316.2 552.8,319.1 554.4,322.0 556.0,324.8 557.6,327.6 559.2,330.5 560.8,333.3 562.4,336.1 564.1,338.9 565.7,341.8 567.3,344.6 568.9,347.4 570.5,350.2 572.1,353.0 573.7,355.8 575.3,358.6 576.9,361.4 578.5,364.2 580.2,366.9 581.8,369.7 583.4,372.4 585.0,375.2 586.6,377.9 588.2,380.6 589.8,383.4 591.4,386.1 593.0,388.8 594.6,391.5 596.3,394.1 597.9,396.8 599.5,399.5 601.1,402.1 602.7,404.8 604.3,407.4 605.9,410.0 607.5,412.7 609.1,415.3 610.7,417.9 612.4,420.5 614.0,423.1 615.6,425.6 617.2,428.2 618.8,430.8 620.4,433.3 622.0,435.9 623.6,438.4 625.2,440.9 626.8,443.4 628.5,445.9 630.1,448.4 631.7,450.9 633.3,453.3 634.9,455.8 636.5,458.2 638.1,460.6 639.7,463.1 641.3,465.5 642.9,467.9 644.6,470.3 646.2,472.7 647.8,475.0 649.4,477.4 651.0,479.8 652.6,482.1 654.2,484.5 655.8,486.8 657.4,489.1 659.0,491.4 660.7,493.7 662.3,496.0 663.9,498.2 665.5,500.5 667.1,502.8 668.7,505.0 670.3,507.2 671.9,509.5 673.5,511.7 675.1,513.9 676.8,516.1 678.4,518.3 680.0,520.5 681.6,522.7 683.2,524.9 684.8,527.1 686.4,529.3 688.0,531.4 689.6,533.6 691.2,535.7 692.9,537.9 694.5,540.0 696.1,542.1 697.7,544.2 699.3,546.3 700.9,548.4 702.5,550.5 704.1,552.6 705.7,554.7 707.3,556.7 709.0,558.8 710.6,560.9 712.2,562.9 713.8,565.0 715.4,567.0 717.0,569.0 718.6,571.1 720.2,573.1 721.8,575.1 723.4,577.2 725.1,579.2 726.7,581.2 728.3,583.2 729.9,585.2 731.5,587.2 733.1,589.2 734.7,591.2 736.3,593.2 737.9,595.2 739.5,597.1 741.2,599.1 742.8,601.1 744.4,603.1 746.0,605.0 747.6,607.0 749.2,609.0 750.8,610.9 752.4,612.8 754.0,614.8 755.6,616.7 757.3,618.6 758.9,620.5 760.5,622.4 762.1,624.3 763.7,626.2 765.3,628.1 766.9,629.9 768.5,631.8 770.1,633.6 771.7,635.5 773.4,637.3 775.0,639.1 776.6,640.9 778.2,642.7 779.8,644.5 781.4,646.3 783.0,648.0 784.6,649.8 786.2,651.5 787.8,653.2 789.5,654.9 791.1,656.6 792.7,658.3 794.3,660.0 795.9,661.7 797.5,663.3 799.1,665.0 800.7,666.6 802.3,668.2 803.9,669.8 805.6,671.4 807.2,673.0 808.8,674.6 810.4,676.1 812.0,677.7 813.6,679.2 815.2,680.7 816.8,682.3 818.4,683.8 820.0,685.3 821.7,686.8 823.3,688.2 824.9,689.7 826.5,691.2 828.1,692.7 829.7,694.1 831.3,695.5 832.9,697.0 834.5,698.4 836.1,699.8 837.8,701.2 839.4,702.6 841.0,704.0 842.6,705.4 844.2,706.8 845.8,708.2 847.4,709.6 849.0,711.0 850.6,712.3 852.2,713.7 853.9,715.0 855.5,716.4 857.1,717.7 858.7,719.1 860.3,720.4 861.9,721.7 863.5,723.1 865.1,724.4 866.7,725.7 868.3,727.0 870.0,728.4 871.6,729.7 873.2,731.0 874.8,732.3 876.4,733.6 878.0,734.9 879.6,736.2 881.2,737.5 882.8,738.8 884.4,740.1 886.1,741.4 887.7,742.7 889.3,743.9 890.9,745.2 892.5,746.5 894.1,747.8 895.7,749.1 897.3,750.4 898.9,751.6 900.5,752.9 902.2,754.2 903.8,755.5 905.4,756.8 907.0,758.1 908.6,759.4 910.2,760.6 911.8,761.9 913.4,763.2 915.0,764.5 916.6,765.8 918.3,767.0 919.9,768.3 921.5,769.5 923.1,770.8 924.7,772.1 926.3,773.3 927.9,774.6 929.5,775.8 931.1,777.1 932.7,778.3 934.4,779.6 936.0,780.8 937.6,782.0 939.2,783.3 940.8,784.5 942.4,785.7 944.0,786.9 945.6,788.1 947.2,789.3 948.8,790.5 950.5,791.7 952.1,792.8 953.7,794.0 955.3,795.1 956.9,796.3 958.5,797.4 960.1,798.6 961.7,799.7 963.3,800.8 964.9,801.9 966.6,803.1 968.2,804.2 969.8,805.3 971.4,806.3 973.0,807.4 974.6,808.5 976.2,809.6 977.8,810.6 979.4,811.7 981.0,812.7 982.7,813.7 984.3,814.8 985.9,815.8 987.5,816.8 989.1,817.8 990.7,818.8 992.3,819.8 993.9,820.8 995.5,821.8 997.1,822.7 998.8,823.7 1000.4,824.7 1002.0,825.6 1003.6,826.6 1005.2,827.5 1006.8,828.5 1008.4,829.4 1010.0,830.4 1011.6,831.3 1013.2,832.2 1014.9,833.1 1016.5,834.1 1018.1,835.0 1019.7,835.9 1021.3,836.8 1022.9,837.7 1024.5,838.6 1026.1,839.5 1027.7,840.3 1029.3,841.2 1031.0,842.1 1032.6,843.0 1034.2,843.9 1035.8,844.7 1037.4,845.6 1039.0,846.5 1040.6,847.3 1042.2,848.2 1043.8,849.0 1045.4,849.9 1047.1,850.7 1048.7,851.6 1050.3,852.4 1051.9,853.2 1053.5,854.1 1055.1,854.9 1056.7,855.7 1058.3,856.5 1059.9,857.4 1061.5,858.2 1063.2,859.0 1064.8,859.8 1066.4,860.6 1068.0,861.4 1069.6,862.2 1071.2,863.0 1072.8,863.8 1074.4,864.6 1076.0,865.4 1077.6,866.1 1079.3,866.9 1080.9,867.7 1082.5,868.5 1084.1,869.2 1085.7,870.0 1087.3,870.8 1088.9,871.5 1090.5,872.3 1092.1,873.0 1093.7,873.8 1095.4,874.5 1097.0,875.3 1098.6,876.0 1100.2,876.8 1101.8,877.5 1103.4,878.2 1105.0,879.0 1106.6,879.7 1108.2,880.4 1109.8,881.1 1111.5,881.9 1113.1,882.6 1114.7,883.3 1116.3,884.0 1117.9,884.7 1119.5,885.4 1121.1,886.1 1122.7,886.8 1124.3,887.5 1125.9,888.2 1127.6,888.9 1129.2,889.6 1130.8,890.3 1132.4,891.0 1134.0,891.6 1135.6,892.3 1137.2,893.0 1138.8,893.7 1140.4,894.3 1142.0,895.0 1143.7,895.7 1145.3,896.3 1146.9,897.0 1148.5,897.6 1150.1,898.3 1151.7,898.9 1153.3,899.6 1154.9,900.2 1156.5,900.9 1158.1,901.5 1159.8,902.2 1161.4,902.8 1163.0,903.4 1164.6,904.1 1166.2,904.7 1167.8,905.3 1169.4,905.9 1171.0,906.6 1172.6,907.2 1174.2,907.8 1175.9,908.4 1177.5,909.0 1179.1,909.6 1180.7,910.2 1182.3,910.9 1183.9,911.5 1185.5,912.1 1187.1,912.7 1188.7,913.2 1190.3,913.8 1192.0,914.4 1193.6,915.0 1195.2,915.6 1196.8,916.2 1198.4,916.8 1200.0,917.4 1201.6,917.9 1203.2,918.5 1204.8,919.1 1206.4,919.7 1208.1,920.2 1209.7,920.8 1211.3,921.4 1212.9,921.9 1214.5,922.5 1216.1,923.0 1217.7,923.6 1219.3,924.1 1220.9,924.7 1222.5,925.2 1224.2,925.8 1225.8,926.3 1227.4,926.9 1229.0,927.4 1230.6,928.0 1232.2,928.5 1233.8,929.0 1235.4,929.6 1237.0,930.1 1238.6,930.6 1240.3,931.2 1241.9,931.7 1243.5,932.2 1245.1,932.7 1246.7,933.2 1248.3,933.8 1249.9,934.3 1251.5,934.8 1253.1,935.3 1254.7,935.8 1256.4,936.3 1258.0,936.8 1259.6,937.3 1261.2,937.8 1262.8,938.3 1264.4,938.8 1266.0,939.3 1267.6,939.8 1269.2,940.3 1270.8,940.8 1272.5,941.3 1274.1,941.8 1275.7,942.3 1277.3,942.7 1278.9,943.2 1280.5,943.7 1282.1,944.2 1283.7,944.7 1285.3,945.1 1286.9,945.6 1288.6,946.1 1290.2,946.5 1291.8,947.0 1293.4,947.5 1295.0,947.9 1296.6,948.4 1298.2,948.9 1299.8,949.3 1301.4,949.8 1303.0,950.2 1304.7,950.7 1306.3,951.1 1307.9,951.6 1309.5,952.0 1311.1,952.5 1312.7,952.9 1314.3,953.4 1315.9,953.8 1317.5,954.3 1319.1,954.7 1320.8,955.1 1322.4,955.6 1324.0,956.0 1325.6,956.5 1327.2,956.9 1328.8,957.3 1330.4,957.7 1332.0,958.2 1333.6,958.6 1335.2,959.0 1336.9,959.4 1338.5,959.9 1340.1,960.3 1341.7,960.7 1343.3,961.1 1344.9,961.5 1346.5,961.9 1348.1,962.4 1349.7,962.8 1351.3,963.2 1353.0,963.6 1354.6,964.0 1356.2,964.4 1357.8,964.8 1359.4,965.2 1361.0,965.6 1362.6,966.0 1364.2,966.4 1365.8,966.8 1367.4,967.2 1369.1,967.6 1370.7,968.0 1372.3,968.4 1373.9,968.7 1375.5,969.1 1377.1,969.5 1378.7,969.9 1380.3,970.3 1381.9,970.7 1383.5,971.0 1385.2,971.4 1386.8,971.8 1388.4,972.2 1390.0,972.6 1391.6,972.9 1393.2,973.3 1394.8,973.7 1396.4,974.0 1398.0,974.4 1399.6,974.8 1401.3,975.1 1402.9,975.5 1404.5,975.9 1406.1,976.2 1407.7,976.6 1409.3,977.0 1410.9,977.3 1412.5,977.7 1414.1,978.0 1415.7,978.4 1417.4,978.7 1419.0,979.1 1420.6,979.4 1422.2,979.8 1423.8,980.1 1425.4,980.5 1427.0,980.8 1428.6,981.2 1430.2,981.5 1431.8,981.9 1433.5,982.2 1435.1,982.5 1436.7,982.9 1438.3,983.2 1439.9,983.6 1441.5,983.9 1443.1,984.2 1444.7,984.6 1446.3,984.9 1447.9,985.2 1449.6,985.6 1451.2,985.9 1452.8,986.2 1454.4,986.5 1456.0,986.9 1457.6,987.2 1459.2,987.5 1460.8,987.8 1462.4,988.2 1464.0,988.5 1465.7,988.8 1467.3,989.1 1468.9,989.4 1470.5,989.7 1472.1,990.1 1473.7,990.4 1475.3,990.7 1476.9,991.0 1478.5,991.3 1480.1,991.6 1481.8,991.9 1483.4,992.2 1485.0,992.6 1486.6,992.9 1488.2,993.2 1489.8,993.5 1491.4,993.8 1493.0,994.1 1494.6,994.4 1496.2,994.7 1497.9,995.0 1499.5,995.3 1501.1,995.6 1502.7,995.9 1504.3,996.2 1505.9,996.5 1507.5,996.8 1509.1,997.0 1510.7,997.3 1512.3,997.6 1514.0,997.9 1515.6,998.2 1517.2,998.5 1518.8,998.8 1520.4,999.1 1522.0,999.4 1523.6,999.6 1525.2,999.9 1526.8,1000.2 1528.4,1000.5 1530.1,1000.8 1531.7,1001.1 1533.3,1001.3 1534.9,1001.6 1536.5,1001.9 1538.1,1002.2 1539.7,1002.5 1541.3,1002.7 1542.9,1003.0 1544.5,1003.3 1546.2,1003.6 1547.8,1003.8 1549.4,1004.1 1551.0,1004.4 1552.6,1004.6 1554.2,1004.9 1555.8,1005.2 1557.4,1005.4 1559.0,1005.7 1560.6,1006.0 1562.3,1006.2 1563.9,1006.5 1565.5,1006.8 1567.1,1007.0 1568.7,1007.3 1570.3,1007.6 1571.9,1007.8 1573.5,1008.1 1575.1,1008.4 1576.7,1008.6 1578.4,1008.9 1580.0,1009.1 1581.6,1009.4 1583.2,1009.6 1584.8,1009.9 1586.4,1010.2 1588.0,1010.4 1589.6,1010.7 1591.2,1010.9 1592.8,1011.2 1594.5,1011.4 1596.1,1011.7 1597.7,1011.9 1599.3,1012.2 1600.9,1012.4 1602.5,1012.7 1604.1,1012.9 1605.7,1013.2 1607.3,1013.4 1608.9,1013.7 1610.6,1013.9 1612.2,1014.1 1613.8,1014.4 1615.4,1014.6 1617.0,1014.9 1618.6,1015.1 1620.2,1015.4 1621.8,1015.6 1623.4,1015.8 1625.0,1016.1 1626.7,1016.3 1628.3,1016.6 1629.9,1016.8 1631.5,1017.0 1633.1,1017.3 1634.7,1017.5 1636.3,1017.7 1637.9,1018.0 1639.5,1018.2 1641.1,1018.4 1642.8,1018.7 1644.4,1018.9 1646.0,1019.1 1647.6,1019.4 1649.2,1019.6 1650.8,1019.8 1652.4,1020.1 1654.0,1020.3 1655.6,1020.5 1657.2,1020.8 1658.9,1021.0 1660.5,1021.2 1662.1,1021.4 1663.7,1021.7 1665.3,1021.9 1666.9,1022.1 1668.5,1022.3 1670.1,1022.6 1671.7,1022.8 1673.3,1023.0 1675.0,1023.2 1676.6,1023.5 1678.2,1023.7 1679.8,1023.9 1681.4,1024.1 1683.0,1024.3 1684.6,1024.6 1686.2,1024.8 1687.8,1025.0 1689.4,1025.2 1691.1,1025.4 1692.7,1025.7 1694.3,1025.9 1695.9,1026.1 1697.5,1026.3 1699.1,1026.5 1700.7,1026.7 1702.3,1026.9 1703.9,1027.2 1705.5,1027.4 1707.2,1027.6 1708.8,1027.8 1710.4,1028.0 1712.0,1028.2 1713.6,1028.4 1715.2,1028.6 1716.8,1028.9 1718.4,1029.1 1720.0,1029.3 1721.6,1029.5 1723.3,1029.7 1724.9,1029.9 1726.5,1030.1 1728.1,1030.3 1729.7,1030.5 1731.3,1030.7 1732.9,1030.9 1734.5,1031.1 1736.1,1031.3 1737.7,1031.6 1739.4,1031.8 1741.0,1032.0 1742.6,1032.2 1744.2,1032.4 1745.8,1032.6 1747.4,1032.8 1749.0,1033.0 1750.6,1033.2 1752.2,1033.4 1753.8,1033.6 1755.5,1033.8 1757.1,1034.0 1758.7,1034.2 1760.3,1034.4 1761.9,1034.6 1763.5,1034.8 1765.1,1035.0 1766.7,1035.2 1768.3,1035.4 1769.9,1035.6 1771.6,1035.8 1773.2,1036.0 1774.8,1036.2 1776.4,1036.4 1778.0,1036.6 1779.6,1036.8 1781.2,1036.9 1782.8,1037.1 1784.4,1037.3 1786.0,1037.5 1787.7,1037.7 1789.3,1037.9 1790.9,1038.1 1792.5,1038.3 1794.1,1038.5 1795.7,1038.7 1797.3,1038.9 1798.9,1039.1 1800.5,1039.3 1802.1,1039.5 1803.8,1039.6 1805.4,1039.8 1807.0,1040.0 1808.6,1040.2 1810.2,1040.4 1811.8,1040.6 1813.4,1040.8 1815.0,1041.0 1816.6,1041.2 1818.2,1041.4 1819.9,1041.5 1821.5,1041.7 1823.1,1041.9 1824.7,1042.1 1826.3,1042.3 1827.9,1042.5 1829.5,1042.7 1831.1,1042.8 1832.7,1043.0 1834.3,1043.2 1836.0,1043.4 1837.6,1043.6 1839.2,1043.8 1840.8,1044.0 1842.4,1044.1 1844.0,1044.3 1845.6,1044.5 1847.2,1044.7 1848.8,1044.9 1850.4,1045.1 1852.1,1045.2 1853.7,1045.4 1855.3,1045.6 1856.9,1045.8 1858.5,1046.0 1860.1,1046.1 1861.7,1046.3 1863.3,1046.5 1864.9,1046.7 1866.5,1046.9 1868.2,1047.0 1869.8,1047.2 1871.4,1047.4 1873.0,1047.6 1874.6,1047.8 1876.2,1047.9 1877.8,1048.1"/>
<polyline stroke="#3741cf" stroke-width="2" marker-start="url(#mb)" marker-mid="url(#mb)" marker-end="url(#mb)" points="193.8,1105.5 195.4,1105.4 197.0,1105.0 198.6,1104.4 200.2,1103.5 201.8,1102.3 203.4,1100.5 205.0,1095.3 206.6,1082.7 208.2,1070.1 209.9,1058.7 211.5,1046.9 213.1,1034.6 214.7,1021.7 216.3,1008.3 217.9,994.2 219.5,979.3 221.1,963.8 222.7,947.4 224.3,930.3 226.0,912.3 227.6,893.4 229.2,873.8 230.8,853.4 232.4,832.5 234.0,811.3 235.6,789.8 237.2,768.5 238.8,747.5 240.4,727.0 242.1,707.2 243.7,688.2 245.3,669.8 246.9,652.0 248.5,634.5 250.1,617.4 251.7,600.4 253.3,583.5 254.9,566.7 256.5,549.8 258.2,532.8 259.8,515.5 261.4,498.0 263.0,480.1 264.6,462.0 266.2,444.1 267.8,426.7 269.4,409.6 271.0,393.1 272.6,377.6 274.3,363.0 275.9,349.1 277.5,335.8 279.1,323.1 280.7,311.0 282.3,299.6 283.9,288.7 285.5,278.4 287.1,268.6 288.7,259.2 290.4,250.0 292.0,241.2 293.6,232.5 295.2,224.0 296.8,215.8 298.4,207.7 300.0,199.9 301.6,192.4 303.2,185.0 304.8,177.8 306.5,170.9 308.1,164.2 309.7,157.7 311.3,151.3 312.9,145.2 314.5,139.3 316.1,133.9 317.7,128.7 319.3,123.9 320.9,119.3 322.6,115.1 324.2,111.2 325.8,107.6 327.4,104.3 329.0,101.3 330.6,98.6 332.2,96.1 333.8,93.8 335.4,91.6 337.0,89.5 338.7,87.6 340.3,85.6 341.9,83.8 343.5,82.0 345.1,80.4 346.7,79.0 348.3,77.7 349.9,76.7 351.5,75.8 353.1,75.0 354.8,74.4 356.4,73.8 358.0,73.3 359.6,72.9 361.2,72.6 362.8,72.2 364.4,72.0 366.0,71.8 367.6,71.8 369.2,71.8 370.9,71.8 372.5,71.8 374.1,71.9 375.7,72.1 377.3,72.3 378.9,72.7 380.5,73.1 382.1,73.5 383.7,74.0 385.3,74.5 387.0,75.0 388.6,75.5 390.2,76.2 391.8,76.9 393.4,77.7 395.0,78.6 396.6,79.5 398.2,80.4 399.8,81.4 401.4,82.4 403.1,83.5 404.7,84.6 406.3,85.8 407.9,87.1 409.5,88.4 411.1,89.8 412.7,91.2 414.3,92.7 415.9,94.1 417.5,95.6 419.2,97.3 420.8,98.9 422.4,100.6 424.0,102.4 425.6,104.2 427.2,106.1 428.8,108.0 430.4,109.9 432.0,111.9 433.6,114.0 435.3,116.1 436.9,118.3 438.5,120.5 440.1,122.7 441.7,125.0 443.3,127.4 444.9,129.8 446.5,132.3 448.1,134.8 449.7,137.5 451.4,140.1 453.0,142.9 454.6,145.6 456.2,148.4 457.8,151.2 459.4,154.0 461.0,156.7 462.6,159.5 464.2,162.2 465.8,164.9 467.5,167.7 469.1,170.4 470.7,173.2 472.3,175.9 473.9,178.7 475.5,181.5 477.1,184.2 478.7,187.0 480.3,189.8 481.9,192.6 483.6,195.5 485.2,198.3 486.8,201.1 488.4,203.9 490.0,206.8 491.6,209.6 493.2,212.5 494.8,215.3 496.4,218.2 498.0,221.0 499.7,223.9 501.3,226.7 502.9,229.6 504.5,232.5 506.1,235.3 507.7,238.2 509.3,241.1 510.9,244.0 512.5,246.9 514.1,249.8 515.8,252.7 517.4,255.6 519.0,258.5 520.6,261.4 522.2,264.3 523.8,267.1 525.4,270.0 527.0,272.9 528.6,275.8 530.2,278.7 531.9,281.6 533.5,284.5 535.1,287.4 536.7,290.3 538.3,293.2 539.9,296.1 541.5,299.0 543.1,301.9 544.7,304.8 546.3,307.6 548.0,310.5 549.6,313.4 551.2,316.2 552.8,319.1 554.4,322.0 556.0,324.8 557.6,327.6 559.2,330.5 560.8,333.3 562.4,336.1 564.1,338.9 565.7,341.8 567.3,344.6 568.9,347.4 570.5,350.2 572.1,353.0 573.7,355.8 575.3,358.6 576.9,361.4 578.5,364.2 580.2,366.9 581.8,369.7 583.4,372.4 585.0,375.2 586.6,377.9 588.2,380.6 589.8,383.4 591.4,386.1 593.0,388.8 594.6,391.5 596.3,394.1 597.9,396.8 599.5,399.5 601.1,402.1 602.7,404.8 604.3,407.4 605.9,410.0 607.5,412.7 609.1,415.3 610.7,417.9 612.4,420.5 614.0,423.1 615.6,425.6 617.2,428.2 618.8,430.8 620.4,433.3 622.0,435.9 623.6,438.4 625.2,440.9 626.8,443.4 628.5,445.9 630.1,448.4 631.7,450.9 633.3,453.3 634.9,455.8 636.5,458.2 638.1,460.6 639.7,463.1 641.3,465.5 642.9,467.9 644.6,470.3 646.2,472.7 647.8,475.0 649.4,477.4 651.0,479.8 652.6,482.1 654.2,484.5 655.8,486.8 657.4,489.1 659.0,491.4 660.7,493.7 662.3,496.0 663.9,498.2 665.5,500.5 667.1,502.8 668.7,505.0 670.3,507.2 671.9,509.5 673.5,511.7 675.1,513.9 676.8,516.1 678.4,518.3 680.0,520.5 681.6,522.7 683.2,524.9 684.8,527.1 686.4,529.3 688.0,531.4 689.6,533.6 691.2,535.7 692.9,537.9 694.5,540.0 696.1,542.1 697.7,544.2 699.3,546.3 700.9,548.4 702.5,550.5 704.1,552.6 705.7,554.7 707.3,556.7 709.0,558.8 710.6,560.9 712.2,562.9 713.8,565.0 715.4,567.0 717.0,569.0 718.6,571.1 720.2,573.1 721.8,575.1 723.4,577.2 725.1,579.2 726.7,581.2 728.3,583.2 729.9,585.2 731.5,587.2 733.1,589.2 734.7,591.2 736.3,593.2 737.9,595.2 739.5,597.1 741.2,599.1 742.8,601.1 744.4,603.1 746.0,605.0 747.6,607.0 749.2,609.0 750.8,610.9 752.4,612.8 754.0,614.8 755.6,616.7 757.3,618.6 758.9,620.5 760.5,622.4 762.1,624.3 763.7,626.2 765.3,628.1 766.9,629.9 768.5,631.8 770.1,633.6 771.7,635.5 773.4,637.3 775.0,639.1 776.6,640.9 778.2,642.7 779.8,644.5 781.4,646.3 783.0,648.0 784.6,649.8 786.2,651.5 787.8,653.2 789.5,654.9 791.1,656.6 792.7,658.3 794.3,660.0 795.9,661.7 797.5,663.3 799.1,665.0 800.7,666.6 802.3,668.2 803.9,669.8 805.6,671.4 807.2,673.0 808.8,674.6 810.4,676.1 812.0,677.7 813.6,679.2 815.2,680.7 816.8,682.3 818.4,683.8 820.0,685.3 821.7,686.8 823.3,688.2 824.9,689.7 826.5,691.2 828.1,692.7 829.7,694.1 831.3,695.5 832.9,697.0 834.5,698.4 836.1,699.8 837.8,701.2 839.4,702.6 841.0,704.0 842.6,705.4 844.2,706.8 845.8,708.2 847.4,709.6 849.0,711.0 850.6,712.3 852.2,713.7 853.9,715.0 855.5,716.4 857.1,717.7 858.7,719.1 860.3,720.4 861.9,721.7 863.5,723.1 865.1,724.4 866.7,725.7 868.3,727.0 870.0,728.4 871.6,729.7 873.2,731.0 874.8,732.3 876.4,733.6 878.0,734.9 879.6,736.2 881.2,737.5 882.8,738.8 884.4,740.1 886.1,741.4 887.7,742.7 889.3,743.9 890.9,745.2 892.5,746.5 894.1,747.8 895.7,749.1 897.3,750.4 898.9,751.6 900.5,752.9 902.2,754.2 903.8,755.5 905.4,756.8 907.0,758.1 908.6,759.4 910.2,760.6 911.8,761.9 913.4,763.2 915.0,764.5 916.6,765.8 918.3,767.0 919.9,768.3 921.5,769.5 923.1,770.8 924.7,772.1 926.3,773.3 927.9,774.6 929.5,775.8 931.1,777.1 932.7,778.3 934.4,779.6 936.0,780.8 937.6,782.0 939.2,783.3 940.8,784.5 942.4,785.7 944.0,786.9 945.6,788.1 947.2,789.3 948.8,790.5 950.5,791.7 952.1,792.8 953.7,794.0 955.3,795.1 956.9,796.3 958.5,797.4 960.1,798.6 961.7,799.7 963.3,800.8 964.9,801.9 966.6,803.1 968.2,804.2 969.8,805.3 971.4,806.3 973.0,807.4 974.6,808.5 976.2,809.6 977.8,810.6 979.4,811.7 981.0,812.7 982.7,813.7 984.3,814.8 985.9,815.8 987.5,816.8 989.1,817.8 990.7,818.8 992.3,819.8 993.9,820.8 995.5,821.8 997.1,822.7 998.8,823.7 1000.4,824.7 1002.0,825.6 1003.6,826.6 1005.2,827.5 1006.8,828.5 1008.4,829.4 1010.0,830.4 1011.6,831.3 1013.2,832.2 1014.9,833.1 1016.5,834.1 1018.1,835.0 1019.7,835.9 1021.3,836.8 1022.9,837.7 1024.5,838.6 1026.1,839.5 1027.7,840.3 1029.3,841.2 1031.0,842.1 1032.6,843.0 1034.2,843.9 1035.8,844.7 1037.4,845.6 1039.0,846.5 1040.6,847.3 1042.2,848.2 1043.8,849.0 1045.4,849.9 1047.1,850.7 1048.7,851.6 1050.3,852.4 1051.9,853.2 1053.5,854.1 1055.1,854.9 1056.7,855.7 1058.3,856.5 1059.9,857.4 1061.5,858.2 1063.2,859.0 1064.8,859.8 1066.4,860.6 1068.0,861.4 1069.6,862.2 1071.2,863.0 1072.8,863.8 1074.4,864.6 1076.0,865.4 1077.6,866.1 1079.3,866.9 1080.9,867.7 1082.5,868.5 1084.1,869.2 1085.7,870.0 1087.3,870.8 1088.9,871.5 1090.5,872.3 1092.1,873.0 1093.7,873.8 1095.4,874.5 1097.0,875.3 1098.6,876.0 1100.2,876.8 1101.8,877.5 1103.4,878.2 1105.0,879.0 1106.6,879.7 1108.2,880.4 1109.8,881.1 1111.5,881.9 1113.1,882.6 1114.7,883.3 1116.3,884.0 1117.9,884.7 1119.5,885.4 1121.1,886.1 1122.7,886.8 1124.3,887.5 1125.9,888.2 1127.6,888.9 1129.2,889.6 1130.8,890.3 1132.4,891.0 1134.0,891.6 1135.6,892.3 1137.2,893.0 1138.8,893.7 1140.4,894.3 1142.0,895.0 1143.7,895.7 1145.3,896.3 1146.9,897.0 1148.5,897.6 1150.1,898.3 1151.7,898.9 1153.3,899.6 1154.9,900.2 1156.5,900.9 1158.1,901.5 1159.8,902.2 1161.4,902.8 1163.0,903.4 1164.6,904.1 1166.2,904.7 1167.8,905.3 1169.4,905.9 1171.0,906.6 1172.6,907.2 1174.2,907.8 1175.9,908.4 1177.5,909.0 1179.1,909.6 1180.7,910.2 1182.3,910.9 1183.9,911.5 1185.5,912.1 1187.1,912.7 1188.7,913.2 1190.3,913.8 1192.0,914.4 1193.6,915.0 1195.2,915.6 1196.8,916.2 1198.4,916.8 1200.0,917.4 1201.6,917.9 1203.2,918.5 1204.8,919.1 1206.4,919.7 1208.1,920.2 1209.7,920.8 1211.3,921.4 1212.9,921.9 1214.5,922.5 1216.1,923.0 1217.7,923.6 1219.3,924.1 1220.9,924.7 1222.5,925.2 1224.2,925.8 1225.8,926.3 1227.4,926.9 1229.0,927.4 1230.6,928.0 1232.2,928.5 1233.8,929.0 1235.4,929.6 1237.0,930.1 1238.6,930.6 1240.3,931.2 1241.9,931.7 1243.5,932.2 1245.1,932.7 1246.7,933.2 1248.3,933.8 1249.9,934.3 1251.5,934.8 1253.1,935.3 1254.7,935.8 1256.4,936.3 1258.0,936.8 1259.6,937.3 1261.2,937.8 1262.8,938.3 1264.4,938.8 1266.0,939.3 1267.6,939.8 1269.2,940.3 1270.8,940.8 1272.5,941.3 1274.1,941.8 1275.7,942.3 1277.3,942.7 1278.9,943.2 1280.5,943.7 1282.1,944.2 1283.7,944.7 1285.3,945.1 1286.9,945.6 1288.6,946.1 1290.2,946.5 1291.8,947.0 1293.4,947.5 1295.0,947.9 1296.6,948.4 1298.2,948.9 1299.8,949.3 1301.4,949.8 1303.0,950.2 1304.7,950.7 1306.3,951.1 1307.9,951.6 1309.5,952.0 1311.1,952.5 1312.7,952.9 1314.3,953.4 1315.9,953.8 1317.5,954.3 1319.1,954.7 1320.8,955.1 1322.4,955.6 1324.0,956.0 1325.6,956.5 1327.2,956.9 1328.8,957.3 1330.4,957.7 1332.0,958.2 1333.6,958.6 1335.2,959.0 1336.9,959.4 1338.5,959.9 1340.1,960.3 1341.7,960.7 1343.3,961.1 1344.9,961.5 1346.5,961.9 1348.1,962.4 1349.7,962.8 1351.3,963.2 1353.0,963.6 1354.6,964.0 1356.2,964.4 1357.8,964.8 1359.4,965.2 1361.0,965.6 1362.6,966.0 1364.2,966.4 1365.8,966.8 1367.4,967.2 1369.1,967.6 1370.7,968.0 1372.3,968.4 1373.9,968.7 1375.5,969.1 1377.1,969.5 1378.7,969.9 1380.3,970.3 1381.9,970.7 1383.5,971.0 1385.2,971.4 1386.8,971.8 1388.4,972.2 1390.0,972.6 1391.6,972.9 1393.2,973.3 1394.8,973.7 1396.4,974.0 1398.0,974.4 1399.6,974.8 1401.3,975.1 1402.9,975.5 1404.5,975.9 1406.1,976.2 1407.7,976.6 1409.3,977.0 1410.9,977.3 1412.5,977.7 1414.1,978.0 1415.7,978.4 1417.4,978.7 1419.0,979.1 1420.6,979.4 1422.2,979.8 1423.8,980.1 1425.4,980.5 1427.0,980.8 1428.6,981.2 1430.2,981.5 1431.8,981.9 1433.5,982.2 1435.1,982.5 1436.7,982.9 1438.3,983.2 1439.9,983.6 1441.5,983.9 1443.1,984.2 1444.7,984.6 1446.3,984.9 1447.9,985.2 1449.6,985.6 1451.2,985.9 1452.8,986.2 1454.4,986.5 1456.0,986.9 1457.6,987.2 1459.2,987.5 1460.8,987.8 1462.4,988.2 1464.0,988.5 1465.7,988.8 1467.3,989.1 1468.9,989.4 1470.5,989.7 1472.1,990.1 1473.7,990.4 1475.3,990.7 1476.9,991.0 1478.5,991.3 1480.1,991.6 1481.8,991.9 1483.4,992.2 1485.0,992.6 1486.6,992.9 1488.2,993.2 1489.8,993.5 1491.4,993.8 1493.0,994.1 1494.6,994.4 1496.2,994.7 1497.9,995.0 1499.5,995.3 1501.1,995.6 1502.7,995.9 1504.3,996.2 1505.9,996.5 1507.5,996.8 1509.1,997.0 1510.7,997.3 1512.3,997.6 1514.0,997.9 1515.6,998.2 1517.2,998.5 1518.8,998.8 1520.4,999.1 1522.0,999.4 1523.6,999.6 1525.2,999.9 1526.8,1000.2 1528.4,1000.5 1530.1,1000.8 1531.7,1001.1 1533.3,1001.3 1534.9,1001.6 1536.5,1001.9 1538.1,1002.2 1539.7,1002.5 1541.3,1002.7 1542.9,1003.0 1544.5,1003.3 1546.2,1003.6 1547.8,1003.8 1549.4,1004.1 1551.0,1004.4 1552.6,1004.6 1554.2,1004.9 1555.8,1005.2 1557.4,1005.4 1559.0,1005.7 1560.6,1006.0 1562.3,1006.2 1563.9,1006.5 1565.5,1006.8 1567.1,1007.0 1568.7,1007.3 1570.3,1007.6 1571.9,1007.8 1573.5,1008.1 1575.1,1008.4 1576.7,1008.6 1578.4,1008.9 1580.0,1009.1 1581.6,1009.4 1583.2,1009.6 1584.8,1009.9 1586.4,1010.2 1588.0,1010.4 1589.6,1010.7 1591.2,1010.9 1592.8,1011.2 1594.5,1011.4 1596.1,1011.7 1597.7,1011.9 1599.3,1012.2 1600.9,1012.4 1602.5,1012.7 1604.1,1012.9 1605.7,1013.2 1607.3,1013.4 1608.9,1013.7 1610.6,1013.9 1612.2,1014.1 1613.8,1014.4 1615.4,1014.6 1617.0,1014.9 1618.6,1015.1 1620.2,1015.4 1621.8,1015.6 1623.4,1015.8 1625.0,1016.1 1626.7,1016.3 1628.3,1016.6 1629.9,1016.8 1631.5,1017.0 1633.1,1017.3 1634.7,1017.5 1636.3,1017.7 1637.9,1018.0 1639.5,1018.2 1641.1,1018.4 1642.8,1018.7 1644.4,1018.9 1646.0,1019.1 1647.6,1019.4 1649.2,1019.6 1650.8,1019.8 1652.4,1020.1 1654.0,1020.3 1655.6,1020.5 1657.2,1020.8 1658.9,1021.0 1660.5,1021.2 1662.1,1021.4 1663.7,1021.7 1665.3,1021.9 1666.9,1022.1 1668.5,1022.3 1670.1,1022.6 1671.7,1022.8 1673.3,1023.0 1675.0,1023.2 1676.6,1023.5 1678.2,1023.7 1679.8,1023.9 1681.4,1024.1 1683.0,1024.3 1684.6,1024.6 1686.2,1024.8 1687.8,1025.0 1689.4,1025.2 1691.1,1025.4 1692.7,1025.7 1694.3,1025.9 1695.9,1026.1 1697.5,1026.3 1699.1,1026.5 1700.7,1026.7 1702.3,1026.9 1703.9,1027.2 1705.5,1027.4 1707.2,1027.6 1708.8,1027.8 1710.4,1028.0 1712.0,1028.2 1713.6,1028.4 1715.2,1028.6 1716.8,1028.9 1718.4,1029.1 1720.0,1029.3 1721.6,1029.5 1723.3,1029.7 1724.9,1029.9 1726.5,1030.1 1728.1,1030.3 1729.7,1030.5 1731.3,1030.7 1732.9,1030.9 1734.5,1031.1 1736.1,1031.3 1737.7,1031.6 1739.4,1031.8 1741.0,1032.0 1742.6,1032.2 1744.2,1032.4 1745.8,1032.6 1747.4,1032.8 1749.0,1033.0 1750.6,1033.2 1752.2,1033.4 1753.8,1033.6 1755.5,1033.8 1757.1,1034.0 1758.7,1034.2 1760.3,1034.4 1761.9,1034.6 1763.5,1034.8 1765.1,1035.0 1766.7,1035.2 1768.3,1035.4 1769.9,1035.6 1771.6,1035.8 1773.2,1036.0 1774.8,1036.2 1776.4,1036.4 1778.0,1036.6 1779.6,1036.8 1781.2,1036.9 1782.8,1037.1 1784.4,1037.3 1786.0,1037.5 1787.7,1037.7 1789.3,1037.9 1790.9,1038.1 1792.5,1038.3 1794.1,1038.5 1795.7,1038.7 1797.3,1038.9 1798.9,1039.1 1800.5,1039.3 1802.1,1039.5 1803.8,1039.6 1805.4,1039.8 1807.0,1040.0 1808.6,1040.2 1810.2,1040.4 1811.8,1040.6 1813.4,1040.8 1815.0,1041.0 1816.6,1041.2 1818.2,1041.4 1819.9,1041.5 1821.5,1041.7 1823.1,1041.9 1824.7,1042.1 1826.3,1042.3 1827.9,1042.5 1829.5,1042.7 1831.1,1042.8 1832.7,1043.0 1834.3,1043.2 1836.0,1043.4 1837.6,1043.6 1839.2,1043.8 1840.8,1044.0 1842.4,1044.1 1844.0,1044.3 1845.6,1044.5 1847.2,1044.7 1848.8,1044.9 1850.4,1045.1 1852.1,1045.2 1853.7,1045.4 1855.3,1045.6 1856.9,1045.8 1858.5,1046.0 1860.1,1046.1 1861.7,1046.3 1863.3,1046.5 1864.9,1046.7 1866.5,1046.9 1868.2,1047.0 1869.8,1047.2 1871.4,1047.4 1873.0,1047.6 1874.6,1047.8 1876.2,1047.9 1877.8,1048.1"/>
<polyline stroke="#fb141e" stroke-width="11" points="306.5,139.6 308.1,134.1 309.7,129.0 311.3,124.0 312.9,119.3 314.5,115.1 316.1,111.4 317.7,108.3 319.3,105.7 320.9,103.3 322.6,101.1 324.2,99.0 325.8,97.1 327.4,95.2 329.0,93.4 330.6,91.6 332.2,89.9 333.8,88.3 335.4,86.8 337.0,85.4 338.7,84.0 340.3,82.8 341.9,81.6 343.5,80.6 345.1,79.7 346.7,79.0 348.3,78.5 349.9,78.2 351.5,78.1 353.1,78.0 354.8,78.0 356.4,78.0 358.0,78.0 359.6,78.1 361.2,78.3 362.8,78.8 364.4,79.4 366.0,80.0 367.6,80.8 369.2,81.8 370.9,82.8 372.5,83.9 374.1,85.1 375.7,86.3 377.3,87.7 378.9,89.1 380.5,90.5 382.1,92.0 383.7,93.5 385.3,95.1 387.0,96.7 388.6,98.2 390.2,99.8 391.8,101.4 393.4,103.1 395.0,104.8 396.6,106.5 398.2,108.3 399.8,110.1 401.4,111.9 403.1,113.9 404.7,115.8 406.3,117.9 407.9,120.0 409.5,122.2 411.1,124.5 412.7,126.9 414.3,129.3 415.9,131.9 417.5,134.6 419.2,137.4 420.8,140.3 422.4,143.2 424.0,146.0 425.6,148.7 427.2,151.5 428.8,154.2 430.4,157.0 432.0,159.8 433.6,162.5 435.3,165.4 436.9,168.2 438.5,171.1 440.1,174.1 441.7,177.1 443.3,180.2 444.9,183.2 446.5,186.3 448.1,189.3 449.7,192.4 451.4,195.4 453.0,198.5 454.6,201.6 456.2,204.6 457.8,207.7 459.4,210.7 461.0,213.8 462.6,216.8 464.2,219.9 465.8,223.0 467.5,226.0 469.1,229.1 470.7,232.1 472.3,235.2 473.9,238.3 475.5,241.3 477.1,244.4 478.7,247.4 480.3,250.5 481.9,253.5 483.6,256.6 485.2,259.6 486.8,262.7 488.4,265.7 490.0,268.7 491.6,271.8 493.2,274.8 494.8,277.8 496.4,280.9 498.0,283.9 499.7,286.9 501.3,290.0 502.9,293.0 504.5,296.0 506.1,299.0 507.7,302.0 509.3,305.0 510.9,308.0 512.5,311.0 514.1,314.0 515.8,316.9 517.4,319.9 519.0,322.9 520.6,325.8 522.2,328.8 523.8,331.7 525.4,334.7 527.0,337.6 528.6,340.6 530.2,343.5 531.9,346.4 533.5,349.4 535.1,352.3 536.7,355.2 538.3,358.1 539.9,361.0 541.5,363.9 543.1,366.8 544.7,369.6 546.3,372.5 548.0,375.4 549.6,378.2 551.2,381.1 552.8,383.9 554.4,386.7 556.0,389.6 557.6,392.4 559.2,395.2 560.8,398.0 562.4,400.8 564.1,403.6 565.7,406.4 567.3,409.1 568.9,411.9 570.5,414.7 572.1,417.4 573.7,420.2 575.3,422.9 576.9,425.6 578.5,428.3 580.2,431.1 581.8,433.8 583.4,436.5 585.0,439.1 586.6,441.8 588.2,444.5 589.8,447.2 591.4,449.8 593.0,452.4 594.6,455.1 596.3,457.7 597.9,460.3 599.5,462.9 601.1,465.6 602.7,468.2 604.3,470.7 605.9,473.3 607.5,475.9 609.1,478.5 610.7,481.0 612.4,483.6 614.0,486.1 615.6,488.6 617.2,491.1 618.8,493.7 620.4,496.2 622.0,498.7 623.6,501.2 625.2,503.6 626.8,506.1 628.5,508.6 630.1,511.0 631.7,513.5 633.3,515.9 634.9,518.3 636.5,520.7 638.1,523.1 639.7,525.5 641.3,527.9 642.9,530.3 644.6,532.7 646.2,535.0 647.8,537.4 649.4,539.7 651.0,542.0 652.6,544.3 654.2,546.6 655.8,548.9 657.4,551.1 659.0,553.4 660.7,555.6 662.3,557.8 663.9,560.1 665.5,562.3 667.1,564.5 668.7,566.7 670.3,568.8 671.9,571.0 673.5,573.2 675.1,575.3 676.8,577.4 678.4,579.6 680.0,581.7 681.6,583.8 683.2,585.9 684.8,588.0 686.4,590.1 688.0,592.1 689.6,594.2 691.2,596.2 692.9,598.3 694.5,600.3 696.1,602.3 697.7,604.3 699.3,606.4 700.9,608.3 702.5,610.3 704.1,612.3 705.7,614.3 707.3,616.2 709.0,618.2 710.6,620.1 712.2,622.0 713.8,624.0 715.4,625.9 717.0,627.8 718.6,629.7 720.2,631.5 721.8,633.4 723.4,635.3 725.1,637.1 726.7,639.0 728.3,640.8 729.9,642.7 731.5,644.5 733.1,646.3 734.7,648.1 736.3,649.9 737.9,651.7 739.5,653.5 741.2,655.2 742.8,657.0 744.4,658.8 746.0,660.5 747.6,662.3 749.2,664.0 750.8,665.7 752.4,667.4 754.0,669.1 755.6,670.8 757.3,672.5 758.9,674.2 760.5,675.9 762.1,677.5 763.7,679.2 765.3,680.9 766.9,682.5 768.5,684.1 770.1,685.8 771.7,687.4 773.4,689.0 775.0,690.6 776.6,692.2 778.2,693.8 779.8,695.4 781.4,697.0 783.0,698.5 784.6,700.1 786.2,701.7 787.8,703.2 789.5,704.8 791.1,706.3 792.7,707.8 794.3,709.3 795.9,710.9 797.5,712.4 799.1,713.9 800.7,715.4 802.3,716.8 803.9,718.3 805.6,719.8 807.2,721.3 808.8,722.7 810.4,724.2 812.0,725.6 813.6,727.1 815.2,728.5 816.8,729.9 818.4,731.3 820.0,732.8 821.7,734.2 823.3,735.6 824.9,737.0 826.5,738.4 828.1,739.7 829.7,741.1 831.3,742.5 832.9,743.8 834.5,745.2 836.1,746.6 837.8,747.9 839.4,749.2 841.0,750.6 842.6,751.9 844.2,753.2 845.8,754.5 847.4,755.9 849.0,757.2 850.6,758.5 852.2,759.8 853.9,761.0 855.5,762.3 857.1,763.6 858.7,764.9 860.3,766.1 861.9,767.4 863.5,768.6 865.1,769.9 866.7,771.1 868.3,772.4 870.0,773.6 871.6,774.8 873.2,776.1 874.8,777.3 876.4,778.5 878.0,779.7 879.6,780.9 881.2,782.1 882.8,783.3 884.4,784.5 886.1,785.6 887.7,786.8 889.3,788.0 890.9,789.2 892.5,790.3 894.1,791.5 895.7,792.6 897.3,793.8 898.9,794.9 900.5,796.0 902.2,797.2 903.8,798.3 905.4,799.4 907.0,800.5 908.6,801.6 910.2,802.7 911.8,803.8 913.4,804.9 915.0,806.0 916.6,807.1 918.3,808.2 919.9,809.3 921.5,810.4 923.1,811.4 924.7,812.5 926.3,813.6 927.9,814.6 929.5,815.7 931.1,816.7 932.7,817.7 934.4,818.8 936.0,819.8 937.6,820.8 939.2,821.9 940.8,822.9 942.4,823.9 944.0,824.9 945.6,825.9 947.2,826.9 948.8,827.9 950.5,828.9 952.1,829.9 953.7,830.9 955.3,831.8 956.9,832.8 958.5,833.8 960.1,834.8 961.7,835.7 963.3,836.7 964.9,837.6 966.6,838.6 968.2,839.5 969.8,840.5 971.4,841.4 973.0,842.3 974.6,843.3 976.2,844.2 977.8,845.1 979.4,846.0 981.0,847.0 982.7,847.9 984.3,848.8 985.9,849.7 987.5,850.6 989.1,851.5 990.7,852.3 992.3,853.2 993.9,854.1 995.5,855.0 997.1,855.9 998.8,856.7 1000.4,857.6 1002.0,858.5 1003.6,859.3 1005.2,860.2 1006.8,861.0 1008.4,861.9 1010.0,862.7 1011.6,863.6 1013.2,864.4 1014.9,865.2 1016.5,866.1 1018.1,866.9 1019.7,867.7 1021.3,868.5 1022.9,869.3 1024.5,870.2 1026.1,871.0 1027.7,871.8 1029.3,872.6 1031.0,873.4 1032.6,874.2 1034.2,874.9 1035.8,875.7 1037.4,876.5 1039.0,877.3 1040.6,878.1 1042.2,878.8 1043.8,879.6 1045.4,880.4 1047.1,881.1 1048.7,881.9 1050.3,882.7 1051.9,883.4 1053.5,884.2 1055.1,884.9 1056.7,885.7 1058.3,886.4 1059.9,887.1 1061.5,887.9 1063.2,888.6 1064.8,889.3 1066.4,890.1 1068.0,890.8 1069.6,891.5 1071.2,892.2 1072.8,892.9 1074.4,893.6 1076.0,894.3 1077.6,895.0 1079.3,895.7 1080.9,896.4 1082.5,897.1 1084.1,897.8 1085.7,898.5 1087.3,899.2 1088.9,899.9 1090.5,900.6 1092.1,901.2 1093.7,901.9 1095.4,902.6 1097.0,903.3 1098.6,903.9 1100.2,904.6 1101.8,905.2 1103.4,905.9 1105.0,906.6 1106.6,907.2 1108.2,907.9 1109.8,908.5 1111.5,909.1 1113.1,909.8 1114.7,910.4 1116.3,911.1 1117.9,911.7 1119.5,912.3 1121.1,913.0 1122.7,913.6 1124.3,914.2 1125.9,914.8 1127.6,915.4 1129.2,916.0 1130.8,916.7 1132.4,917.3 1134.0,917.9 1135.6,918.5 1137.2,919.1 1138.8,919.7 1140.4,920.3 1142.0,920.9 1143.7,921.5 1145.3,922.1 1146.9,922.6 1148.5,923.2 1150.1,923.8 1151.7,924.4 1153.3,925.0 1154.9,925.5 1156.5,926.1 1158.1,926.7 1159.8,927.3 1161.4,927.8 1163.0,928.4 1164.6,928.9 1166.2,929.5 1167.8,930.1 1169.4,930.6 1171.0,931.2 1172.6,931.7 1174.2,932.3 1175.9,932.8 1177.5,933.3 1179.1,933.9 1180.7,934.4 1182.3,935.0 1183.9,935.5 1185.5,936.0 1187.1,936.6 1188.7,937.1 1190.3,937.6 1192.0,938.1 1193.6,938.7 1195.2,939.2 1196.8,939.7 1198.4,940.2 1200.0,940.7 1201.6,941.2 1203.2,941.7 1204.8,942.2 1206.4,942.7 1208.1,943.2 1209.7,943.7 1211.3,944.2 1212.9,944.7 1214.5,945.2 1216.1,945.7 1217.7,946.2 1219.3,946.7 1220.9,947.2 1222.5,947.7 1224.2,948.2 1225.8,948.6 1227.4,949.1 1229.0,949.6 1230.6,950.1 1232.2,950.5 1233.8,951.0 1235.4,951.5 1237.0,951.9 1238.6,952.4 1240.3,952.9 1241.9,953.3 1243.5,953.8 1245.1,954.3 1246.7,954.7 1248.3,955.2 1249.9,955.6 1251.5,956.1 1253.1,956.5 1254.7,957.0 1256.4,957.4 1258.0,957.9 1259.6,958.3 1261.2,958.7 1262.8,959.2 1264.4,959.6 1266.0,960.0 1267.6,960.5 1269.2,960.9 1270.8,961.3 1272.5,961.8 1274.1,962.2 1275.7,962.6 1277.3,963.0 1278.9,963.5 1280.5,963.9 1282.1,964.3 1283.7,964.7 1285.3,965.1 1286.9,965.5 1288.6,966.0 1290.2,966.4 1291.8,966.8 1293.4,967.2 1295.0,967.6 1296.6,968.0 1298.2,968.4 1299.8,968.8 1301.4,969.2 1303.0,969.6 1304.7,970.0 1306.3,970.4 1307.9,970.8 1309.5,971.2 1311.1,971.5 1312.7,971.9 1314.3,972.3 1315.9,972.7 1317.5,973.1 1319.1,973.5 1320.8,973.8 1322.4,974.2 1324.0,974.6 1325.6,975.0 1327.2,975.4 1328.8,975.7 1330.4,976.1 1332.0,976.5 1333.6,976.8 1335.2,977.2 1336.9,977.6 1338.5,977.9 1340.1,978.3 1341.7,978.7 1343.3,979.0 1344.9,979.4 1346.5,979.7 1348.1,980.1 1349.7,980.4 1351.3,980.8 1353.0,981.2 1354.6,981.5 1356.2,981.9 1357.8,982.2 1359.4,982.5 1361.0,982.9 1362.6,983.2 1364.2,983.6 1365.8,983.9 1367.4,984.3 1369.1,984.6 1370.7,984.9 1372.3,985.3 1373.9,985.6 1375.5,985.9 1377.1,986.3 1378.7,986.6 1380.3,986.9 1381.9,987.3 1383.5,987.6 1385.2,987.9 1386.8,988.2 1388.4,988.6 1390.0,988.9 1391.6,989.2 1393.2,989.5 1394.8,989.8 1396.4,990.2 1398.0,990.5 1399.6,990.8 1401.3,991.1 1402.9,991.4 1404.5,991.7 1406.1,992.0 1407.7,992.4 1409.3,992.7 1410.9,993.0 1412.5,993.3 1414.1,993.6 1415.7,993.9 1417.4,994.2 1419.0,994.5 1420.6,994.8 1422.2,995.1 1423.8,995.4 1425.4,995.7 1427.0,996.0 1428.6,996.3 1430.2,996.6 1431.8,996.9 1433.5,997.1 1435.1,997.4 1436.7,997.7 1438.3,998.0 1439.9,998.3 1441.5,998.6 1443.1,998.9 1444.7,999.2 1446.3,999.4 1447.9,999.7 1449.6,1000.0 1451.2,1000.3 1452.8,1000.6 1454.4,1000.8 1456.0,1001.1 1457.6,1001.4 1459.2,1001.7 1460.8,1001.9 1462.4,1002.2 1464.0,1002.5 1465.7,1002.7 1467.3,1003.0 1468.9,1003.3 1470.5,1003.6 1472.1,1003.8 1473.7,1004.1 1475.3,1004.3 1476.9,1004.6 1478.5,1004.9 1480.1,1005.1 1481.8,1005.4 1483.4,1005.7 1485.0,1005.9 1486.6,1006.2 1488.2,1006.4 1489.8,1006.7 1491.4,1006.9 1493.0,1007.2 1494.6,1007.4 1496.2,1007.7 1497.9,1007.9 1499.5,1008.2 1501.1,1008.4 1502.7,1008.7 1504.3,1008.9 1505.9,1009.2 1507.5,1009.4 1509.1,1009.7 1510.7,1009.9 1512.3,1010.2 1514.0,1010.4 1515.6,1010.7 1517.2,1010.9 1518.8,1011.1 1520.4,1011.4 1522.0,1011.6 1523.6,1011.8 1525.2,1012.1 1526.8,1012.3 1528.4,1012.6 1530.1,1012.8 1531.7,1013.0 1533.3,1013.3 1534.9,1013.5 1536.5,1013.7 1538.1,1013.9 1539.7,1014.2 1541.3,1014.4 1542.9,1014.6 1544.5,1014.9 1546.2,1015.1 1547.8,1015.3 1549.4,1015.5 1551.0,1015.8 1552.6,1016.0 1554.2,1016.2 1555.8,1016.4 1557.4,1016.6 1559.0,1016.9 1560.6,1017.1 1562.3,1017.3 1563.9,1017.5 1565.5,1017.7 1567.1,1018.0 1568.7,1018.2 1570.3,1018.4 1571.9,1018.6 1573.5,1018.8 1575.1,1019.0 1576.7,1019.2 1578.4,1019.5 1580.0,1019.7 1581.6,1019.9 1583.2,1020.1 1584.8,1020.3 1586.4,1020.5 1588.0,1020.7 1589.6,1020.9 1591.2,1021.1 1592.8,1021.3 1594.5,1021.6 1596.1,1021.8 1597.7,1022.0 1599.3,1022.2 1600.9,1022.4 1602.5,1022.6 1604.1,1022.8 1605.7,1023.0 1607.3,1023.2 1608.9,1023.4 1610.6,1023.6 1612.2,1023.8 1613.8,1024.0 1615.4,1024.2 1617.0,1024.4 1618.6,1024.6 1620.2,1024.8 1621.8,1025.0 1623.4,1025.2 1625.0,1025.4 1626.7,1025.6 1628.3,1025.8 1629.9,1025.9 1631.5,1026.1 1633.1,1026.3 1634.7,1026.5 1636.3,1026.7 1637.9,1026.9 1639.5,1027.1 1641.1,1027.3 1642.8,1027.5 1644.4,1027.7 1646.0,1027.9 1647.6,1028.1 1649.2,1028.2 1650.8,1028.4 1652.4,1028.6 1654.0,1028.8 1655.6,1029.0 1657.2,1029.2 1658.9,1029.4 1660.5,1029.5 1662.1,1029.7 1663.7,1029.9 1665.3,1030.1 1666.9,1030.3 1668.5,1030.5 1670.1,1030.7 1671.7,1030.8 1673.3,1031.0 1675.0,1031.2 1676.6,1031.4 1678.2,1031.6 1679.8,1031.7 1681.4,1031.9 1683.0,1032.1 1684.6,1032.3 1686.2,1032.5 1687.8,1032.6 1689.4,1032.8 1691.1,1033.0 1692.7,1033.2 1694.3,1033.3 1695.9,1033.5 1697.5,1033.7 1699.1,1033.9 1700.7,1034.0 1702.3,1034.2 1703.9,1034.4 1705.5,1034.6 1707.2,1034.7 1708.8,1034.9 1710.4,1035.1 1712.0,1035.3 1713.6,1035.4 1715.2,1035.6 1716.8,1035.8 1718.4,1036.0 1720.0,1036.1 1721.6,1036.3 1723.3,1036.5 1724.9,1036.6 1726.5,1036.8 1728.1,1037.0 1729.7,1037.2 1731.3,1037.3 1732.9,1037.5 1734.5,1037.7 1736.1,1037.8 1737.7,1038.0 1739.4,1038.2 1741.0,1038.3 1742.6,1038.5 1744.2,1038.7 1745.8,1038.8 1747.4,1039.0 1749.0,1039.2 1750.6,1039.3 1752.2,1039.5 1753.8,1039.7 1755.5,1039.8 1757.1,1040.0 1758.7,1040.2 1760.3,1040.3 1761.9,1040.5 1763.5,1040.7 1765.1,1040.8 1766.7,1041.0 1768.3,1041.2 1769.9,1041.3 1771.6,1041.5 1773.2,1041.6 1774.8,1041.8 1776.4,1042.0 1778.0,1042.1 1779.6,1042.3 1781.2,1042.5 1782.8,1042.6 1784.4,1042.8 1786.0,1042.9 1787.7,1043.1 1789.3,1043.3 1790.9,1043.4 1792.5,1043.6 1794.1,1043.7 1795.7,1043.9 1797.3,1044.1 1798.9,1044.2 1800.5,1044.4 1802.1,1044.5 1803.8,1044.7 1805.4,1044.9 1807.0,1045.0 1808.6,1045.2 1810.2,1045.3 1811.8,1045.5 1813.4,1045.7 1815.0,1045.8 1816.6,1046.0 1818.2,1046.1 1819.9,1046.3 1821.5,1046.4 1823.1,1046.6 1824.7,1046.8 1826.3,1046.9 1827.9,1047.1 1829.5,1047.2 1831.1,1047.4 1832.7,1047.6 1834.3,1047.7 1836.0,1047.9 1837.6,1048.0 1839.2,1048.2 1840.8,1048.3 1842.4,1048.5 1844.0,1048.6 1845.6,1048.8 1847.2,1049.0 1848.8,1049.1 1850.4,1049.3 1852.1,1049.4 1853.7,1049.6 1855.3,1049.7 1856.9,1049.9 1858.5,1050.0 1860.1,1050.2 1861.7,1050.4 1863.3,1050.5 1864.9,1050.7 1866.5,1050.8 1868.2,1051.0 1869.8,1051.1 1871.4,1051.3 1873.0,1051.4 1874.6,1051.6 1876.2,1051.7 1877.8,1051.9"/>
<polyline stroke="#fb141e" stroke-width="2" marker-start="url(#mr)" marker-mid="url(#mr)" marker-end="url(#mr)" points="193.8,1105.5 195.4,1105.4 197.0,1104.9 198.6,1103.4 200.2,1100.7 201.8,1095.2 203.4,1084.5 205.0,1072.2 206.6,1061.2 208.2,1049.5 209.9,1036.9 211.5,1023.4 213.1,1008.8 214.7,993.0 216.3,975.7 217.9,957.1 219.5,936.9 221.1,915.5 222.7,893.2 224.3,870.6 226.0,848.4 227.6,826.5 229.2,804.9 230.8,783.5 232.4,762.5 234.0,741.6 235.6,721.0 237.2,700.5 238.8,680.3 240.4,660.2 242.1,640.2 243.7,620.5 245.3,600.9 246.9,581.6 248.5,562.7 250.1,544.0 251.7,525.8 253.3,507.9 254.9,490.4 256.5,473.3 258.2,456.7 259.8,440.4 261.4,424.5 263.0,409.0 264.6,393.9 266.2,379.1 267.8,364.9 269.4,351.0 271.0,337.5 272.6,324.5 274.3,311.7 275.9,299.5 277.5,287.9 279.1,276.9 280.7,266.3 282.3,256.1 283.9,246.2 285.5,236.6 287.1,227.3 288.7,218.4 290.4,209.9 292.0,201.8 293.6,193.9 295.2,186.2 296.8,178.7 298.4,171.4 300.0,164.4 301.6,157.7 303.2,151.4 304.8,145.3 306.5,139.6 308.1,134.1 309.7,129.0 311.3,124.0 312.9,119.3 314.5,115.1 316.1,111.4 317.7,108.3 319.3,105.7 320.9,103.3 322.6,101.1 324.2,99.0 325.8,97.1 327.4,95.2 329.0,93.4 330.6,91.6 332.2,89.9 333.8,88.3 335.4,86.8 337.0,85.4 338.7,84.0 340.3,82.8 341.9,81.6 343.5,80.6 345.1,79.7 346.7,79.0 348.3,78.5 349.9,78.2 351.5,78.1 353.1,78.0 354.8,78.0 356.4,78.0 358.0,78.0 359.6,78.1 361.2,78.3 362.8,78.8 364.4,79.4 366.0,80.0 367.6,80.8 369.2,81.8 370.9,82.8 372.5,83.9 374.1,85.1 375.7,86.3 377.3,87.7 378.9,89.1 380.5,90.5 382.1,92.0 383.7,93.5 385.3,95.1 387.0,96.7 388.6,98.2 390.2,99.8 391.8,101.4 393.4,103.1 395.0,104.8 396.6,106.5 398.2,108.3 399.8,110.1 401.4,111.9 403.1,113.9 404.7,115.8 406.3,117.9 407.9,120.0 409.5,122.2 411.1,124.5 412.7,126.9 414.3,129.3 415.9,131.9 417.5,134.6 419.2,137.4 420.8,140.3 422.4,143.2 424.0,146.0 425.6,148.7 427.2,151.5 428.8,154.2 430.4,157.0 432.0,159.8 433.6,162.5 435.3,165.4 436.9,168.2 438.5,171.1 440.1,174.1 441.7,177.1 443.3,180.2 444.9,183.2 446.5,186.3 448.1,189.3 449.7,192.4 451.4,195.4 453.0,198.5 454.6,201.6 456.2,204.6 457.8,207.7 459.4,210.7 461.0,213.8 462.6,216.8 464.2,219.9 465.8,223.0 467.5,226.0 469.1,229.1 470.7,232.1 472.3,235.2 473.9,238.3 475.5,241.3 477.1,244.4 478.7,247.4 480.3,250.5 481.9,253.5 483.6,256.6 485.2,259.6 486.8,262.7 488.4,265.7 490.0,268.7 491.6,271.8 493.2,274.8 494.8,277.8 496.4,280.9 498.0,283.9 499.7,286.9 501.3,290.0 502.9,293.0 504.5,296.0 506.1,299.0 507.7,302.0 509.3,305.0 510.9,308.0 512.5,311.0 514.1,314.0 515.8,316.9 517.4,319.9 519.0,322.9 520.6,325.8 522.2,328.8 523.8,331.7 525.4,334.7 527.0,337.6 528.6,340.6 530.2,343.5 531.9,346.4 533.5,349.4 535.1,352.3 536.7,355.2 538.3,358.1 539.9,361.0 541.5,363.9 543.1,366.8 544.7,369.6 546.3,372.5 548.0,375.4 549.6,378.2 551.2,381.1 552.8,383.9 554.4,386.7 556.0,389.6 557.6,392.4 559.2,395.2 560.8,398.0 562.4,400.8 564.1,403.6 565.7,406.4 567.3,409.1 568.9,411.9 570.5,414.7 572.1,417.4 573.7,420.2 575.3,422.9 576.9,425.6 578.5,428.3 580.2,431.1 581.8,433.8 583.4,436.5 585.0,439.1 586.6,441.8 588.2,444.5 589.8,447.2 591.4,449.8 593.0,452.4 594.6,455.1 596.3,457.7 597.9,460.3 599.5,462.9 601.1,465.6 602.7,468.2 604.3,470.7 605.9,473.3 607.5,475.9 609.1,478.5 610.7,481.0 612.4,483.6 614.0,486.1 615.6,488.6 617.2,491.1 618.8,493.7 620.4,496.2 622.0,498.7 623.6,501.2 625.2,503.6 626.8,506.1 628.5,508.6 630.1,511.0 631.7,513.5 633.3,515.9 634.9,518.3 636.5,520.7 638.1,523.1 639.7,525.5 641.3,527.9 642.9,530.3 644.6,532.7 646.2,535.0 647.8,537.4 649.4,539.7 651.0,542.0 652.6,544.3 654.2,546.6 655.8,548.9 657.4,551.1 659.0,553.4 660.7,555.6 662.3,557.8 663.9,560.1 665.5,562.3 667.1,564.5 668.7,566.7 670.3,568.8 671.9,571.0 673.5,573.2 675.1,575.3 676.8,577.4 678.4,579.6 680.0,581.7 681.6,583.8 683.2,585.9 684.8,588.0 686.4,590.1 688.0,592.1 689.6,594.2 691.2,596.2 692.9,598.3 694.5,600.3 696.1,602.3 697.7,604.3 699.3,606.4 700.9,608.3 702.5,610.3 704.1,612.3 705.7,614.3 707.3,616.2 709.0,618.2 710.6,620.1 712.2,622.0 713.8,624.0 715.4,625.9 717.0,627.8 718.6,629.7 720.2,631.5 721.8,633.4 723.4,635.3 725.1,637.1 726.7,639.0 728.3,640.8 729.9,642.7 731.5,644.5 733.1,646.3 734.7,648.1 736.3,649.9 737.9,651.7 739.5,653.5 741.2,655.2 742.8,657.0 744.4,658.8 746.0,660.5 747.6,662.3 749.2,664.0 750.8,665.7 752.4,667.4 754.0,669.1 755.6,670.8 757.3,672.5 758.9,674.2 760.5,675.9 762.1,677.5 763.7,679.2 765.3,680.9 766.9,682.5 768.5,684.1 770.1,685.8 771.7,687.4 773.4,689.0 775.0,690.6 776.6,692.2 778.2,693.8 779.8,695.4 781.4,697.0 783.0,698.5 784.6,700.1 786.2,701.7 787.8,703.2 789.5,704.8 791.1,706.3 792.7,707.8 794.3,709.3 795.9,710.9 797.5,712.4 799.1,713.9 800.7,715.4 802.3,716.8 803.9,718.3 805.6,719.8 807.2,721.3 808.8,722.7 810.4,724.2 812.0,725.6 813.6,727.1 815.2,728.5 816.8,729.9 818.4,731.3 820.0,732.8 821.7,734.2 823.3,735.6 824.9,737.0 826.5,738.4 828.1,739.7 829.7,741.1 831.3,742.5 832.9,743.8 834.5,745.2 836.1,746.6 837.8,747.9 839.4,749.2 841.0,750.6 842.6,751.9 844.2,753.2 845.8,754.5 847.4,755.9 849.0,757.2 850.6,758.5 852.2,759.8 853.9,761.0 855.5,762.3 857.1,763.6 858.7,764.9 860.3,766.1 861.9,767.4 863.5,768.6 865.1,769.9 866.7,771.1 868.3,772.4 870.0,773.6 871.6,774.8 873.2,776.1 874.8,777.3 876.4,778.5 878.0,779.7 879.6,780.9 881.2,782.1 882.8,783.3 884.4,784.5 886.1,785.6 887.7,786.8 889.3,788.0 890.9,789.2 892.5,790.3 894.1,791.5 895.7,792.6 897.3,793.8 898.9,794.9 900.5,796.0 902.2,797.2 903.8,798.3 905.4,799.4 907.0,800.5 908.6,801.6 910.2,802.7 911.8,803.8 913.4,804.9 915.0,806.0 916.6,807.1 918.3,808.2 919.9,809.3 921.5,810.4 923.1,811.4 924.7,812.5 926.3,813.6 927.9,814.6 929.5,815.7 931.1,816.7 932.7,817.7 934.4,818.8 936.0,819.8 937.6,820.8 939.2,821.9 940.8,822.9 942.4,823.9 944.0,824.9 945.6,825.9 947.2,826.9 948.8,827.9 950.5,828.9 952.1,829.9 953.7,830.9 955.3,831.8 956.9,832.8 958.5,833.8 960.1,834.8 961.7,835.7 963.3,836.7 964.9,837.6 966.6,838.6 968.2,839.5 969.8,840.5 971.4,841.4 973.0,842.3 974.6,843.3 976.2,844.2 977.8,845.1 979.4,846.0 981.0,847.0 982.7,847.9 984.3,848.8 985.9,849.7 987.5,850.6 989.1,851.5 990.7,852.3 992.3,853.2 993.9,854.1 995.5,855.0 997.1,855.9 998.8,856.7 1000.4,857.6 1002.0,858.5 1003.6,859.3 1005.2,860.2 1006.8,861.0 1008.4,861.9 1010.0,862.7 1011.6,863.6 1013.2,864.4 1014.9,865.2 1016.5,866.1 1018.1,866.9 1019.7,867.7 1021.3,868.5 1022.9,869.3 1024.5,870.2 1026.1,871.0 1027.7,871.8 1029.3,872.6 1031.0,873.4 1032.6,874.2 1034.2,874.9 1035.8,875.7 1037.4,876.5 1039.0,877.3 1040.6,878.1 1042.2,878.8 1043.8,879.6 1045.4,880.4 1047.1,881.1 1048.7,881.9 1050.3,882.7 1051.9,883.4 1053.5,884.2 1055.1,884.9 1056.7,885.7 1058.3,886.4 1059.9,887.1 1061.5,887.9 1063.2,888.6 1064.8,889.3 1066.4,890.1 1068.0,890.8 1069.6,891.5 1071.2,892.2 1072.8,892.9 1074.4,893.6 1076.0,894.3 1077.6,895.0 1079.3,895.7 1080.9,896.4 1082.5,897.1 1084.1,897.8 1085.7,898.5 1087.3,899.2 1088.9,899.9 1090.5,900.6 1092.1,901.2 1093.7,901.9 1095.4,902.6 1097.0,903.3 1098.6,903.9 1100.2,904.6 1101.8,905.2 1103.4,905.9 1105.0,906.6 1106.6,907.2 1108.2,907.9 1109.8,908.5 1111.5,909.1 1113.1,909.8 1114.7,910.4 1116.3,911.1 1117.9,911.7 1119.5,912.3 1121.1,913.0 1122.7,913.6 1124.3,914.2 1125.9,914.8 1127.6,915.4 1129.2,916.0 1130.8,916.7 1132.4,917.3 1134.0,917.9 1135.6,918.5 1137.2,919.1 1138.8,919.7 1140.4,920.3 1142.0,920.9 1143.7,921.5 1145.3,922.1 1146.9,922.6 1148.5,923.2 1150.1,923.8 1151.7,924.4 1153.3,925.0 1154.9,925.5 1156.5,926.1 1158.1,926.7 1159.8,927.3 1161.4,927.8 1163.0,928.4 1164.6,928.9 1166.2,929.5 1167.8,930.1 1169.4,930.6 1171.0,931.2 1172.6,931.7 1174.2,932.3 1175.9,932.8 1177.5,933.3 1179.1,933.9 1180.7,934.4 1182.3,935.0 1183.9,935.5 1185.5,936.0 1187.1,936.6 1188.7,937.1 1190.3,937.6 1192.0,938.1 1193.6,938.7 1195.2,939.2 1196.8,939.7 1198.4,940.2 1200.0,940.7 1201.6,941.2 1203.2,941.7 1204.8,942.2 1206.4,942.7 1208.1,943.2 1209.7,943.7 1211.3,944.2 1212.9,944.7 1214.5,945.2 1216.1,945.7 1217.7,946.2 1219.3,946.7 1220.9,947.2 1222.5,947.7 1224.2,948.2 1225.8,948.6 1227.4,949.1 1229.0,949.6 1230.6,950.1 1232.2,950.5 1233.8,951.0 1235.4,951.5 1237.0,951.9 1238.6,952.4 1240.3,952.9 1241.9,953.3 1243.5,953.8 1245.1,954.3 1246.7,954.7 1248.3,955.2 1249.9,955.6 1251.5,956.1 1253.1,956.5 1254.7,957.0 1256.4,957.4 1258.0,957.9 1259.6,958.3 1261.2,958.7 1262.8,959.2 1264.4,959.6 1266.0,960.0 1267.6,960.5 1269.2,960.9 1270.8,961.3 1272.5,961.8 1274.1,962.2 1275.7,962.6 1277.3,963.0 1278.9,963.5 1280.5,963.9 1282.1,964.3 1283.7,964.7 1285.3,965.1 1286.9,965.5 1288.6,966.0 1290.2,966.4 1291.8,966.8 1293.4,967.2 1295.0,967.6 1296.6,968.0 1298.2,968.4 1299.8,968.8 1301.4,969.2 1303.0,969.6 1304.7,970.0 1306.3,970.4 1307.9,970.8 1309.5,971.2 1311.1,971.5 1312.7,971.9 1314.3,972.3 1315.9,972.7 1317.5,973.1 1319.1,973.5 1320.8,973.8 1322.4,974.2 1324.0,974.6 1325.6,975.0 1327.2,975.4 1328.8,975.7 1330.4,976.1 1332.0,976.5 1333.6,976.8 1335.2,977.2 1336.9,977.6 1338.5,977.9 1340.1,978.3 1341.7,978.7 1343.3,979.0 1344.9,979.4 1346.5,979.7 1348.1,980.1 1349.7,980.4 1351.3,980.8 1353.0,981.2 1354.6,981.5 1356.2,981.9 1357.8,982.2 1359.4,982.5 1361.0,982.9 1362.6,983.2 1364.2,983.6 1365.8,983.9 1367.4,984.3 1369.1,984.6 1370.7,984.9 1372.3,985.3 1373.9,985.6 1375.5,985.9 1377.1,986.3 1378.7,986.6 1380.3,986.9 1381.9,987.3 1383.5,987.6 1385.2,987.9 1386.8,988.2 1388.4,988.6 1390.0,988.9 1391.6,989.2 1393.2,989.5 1394.8,989.8 1396.4,990.2 1398.0,990.5 1399.6,990.8 1401.3,991.1 1402.9,991.4 1404.5,991.7 1406.1,992.0 1407.7,992.4 1409.3,992.7 1410.9,993.0 1412.5,993.3 1414.1,993.6 1415.7,993.9 1417.4,994.2 1419.0,994.5 1420.6,994.8 1422.2,995.1 1423.8,995.4 1425.4,995.7 1427.0,996.0 1428.6,996.3 1430.2,996.6 1431.8,996.9 1433.5,997.1 1435.1,997.4 1436.7,997.7 1438.3,998.0 1439.9,998.3 1441.5,998.6 1443.1,998.9 1444.7,999.2 1446.3,999.4 1447.9,999.7 1449.6,1000.0 1451.2,1000.3 1452.8,1000.6 1454.4,1000.8 1456.0,1001.1 1457.6,1001.4 1459.2,1001.7 1460.8,1001.9 1462.4,1002.2 1464.0,1002.5 1465.7,1002.7 1467.3,1003.0 1468.9,1003.3 1470.5,1003.6 1472.1,1003.8 1473.7,1004.1 1475.3,1004.3 1476.9,1004.6 1478.5,1004.9 1480.1,1005.1 1481.8,1005.4 1483.4,1005.7 1485.0,1005.9 1486.6,1006.2 1488.2,1006.4 1489.8,1006.7 1491.4,1006.9 1493.0,1007.2 1494.6,1007.4 1496.2,1007.7 1497.9,1007.9 1499.5,1008.2 1501.1,1008.4 1502.7,1008.7 1504.3,1008.9 1505.9,1009.2 1507.5,1009.4 1509.1,1009.7 1510.7,1009.9 1512.3,1010.2 1514.0,1010.4 1515.6,1010.7 1517.2,1010.9 1518.8,1011.1 1520.4,1011.4 1522.0,1011.6 1523.6,1011.8 1525.2,1012.1 1526.8,1012.3 1528.4,1012.6 1530.1,1012.8 1531.7,1013.0 1533.3,1013.3 1534.9,1013.5 1536.5,1013.7 1538.1,1013.9 1539.7,1014.2 1541.3,1014.4 1542.9,1014.6 1544.5,1014.9 1546.2,1015.1 1547.8,1015.3 1549.4,1015.5 1551.0,1015.8 1552.6,1016.0 1554.2,1016.2 1555.8,1016.4 1557.4,1016.6 1559.0,1016.9 1560.6,1017.1 1562.3,1017.3 1563.9,1017.5 1565.5,1017.7 1567.1,1018.0 1568.7,1018.2 1570.3,1018.4 1571.9,1018.6 1573.5,1018.8 1575.1,1019.0 1576.7,1019.2 1578.4,1019.5 1580.0,1019.7 1581.6,1019.9 1583.2,1020.1 1584.8,1020.3 1586.4,1020.5 1588.0,1020.7 1589.6,1020.9 1591.2,1021.1 1592.8,1021.3 1594.5,1021.6 1596.1,1021.8 1597.7,1022.0 1599.3,1022.2 1600.9,1022.4 1602.5,1022.6 1604.1,1022.8 1605.7,1023.0 1607.3,1023.2 1608.9,1023.4 1610.6,1023.6 1612.2,1023.8 1613.8,1024.0 1615.4,1024.2 1617.0,1024.4 1618.6,1024.6 1620.2,1024.8 1621.8,1025.0 1623.4,1025.2 1625.0,1025.4 1626.7,1025.6 1628.3,1025.8 1629.9,1025.9 1631.5,1026.1 1633.1,1026.3 1634.7,1026.5 1636.3,1026.7 1637.9,1026.9 1639.5,1027.1 1641.1,1027.3 1642.8,1027.5 1644.4,1027.7 1646.0,1027.9 1647.6,1028.1 1649.2,1028.2 1650.8,1028.4 1652.4,1028.6 1654.0,1028.8 1655.6,1029.0 1657.2,1029.2 1658.9,1029.4 1660.5,1029.5 1662.1,1029.7 1663.7,1029.9 1665.3,1030.1 1666.9,1030.3 1668.5,1030.5 1670.1,1030.7 1671.7,1030.8 1673.3,1031.0 1675.0,1031.2 1676.6,1031.4 1678.2,1031.6 1679.8,1031.7 1681.4,1031.9 1683.0,1032.1 1684.6,1032.3 1686.2,1032.5 1687.8,1032.6 1689.4,1032.8 1691.1,1033.0 1692.7,1033.2 1694.3,1033.3 1695.9,1033.5 1697.5,1033.7 1699.1,1033.9 1700.7,1034.0 1702.3,1034.2 1703.9,1034.4 1705.5,1034.6 1707.2,1034.7 1708.8,1034.9 1710.4,1035.1 1712.0,1035.3 1713.6,1035.4 1715.2,1035.6 1716.8,1035.8 1718.4,1036.0 1720.0,1036.1 1721.6,1036.3 1723.3,1036.5 1724.9,1036.6 1726.5,1036.8 1728.1,1037.0 1729.7,1037.2 1731.3,1037.3 1732.9,1037.5 1734.5,1037.7 1736.1,1037.8 1737.7,1038.0 1739.4,1038.2 1741.0,1038.3 1742.6,1038.5 1744.2,1038.7 1745.8,1038.8 1747.4,1039.0 1749.0,1039.2 1750.6,1039.3 1752.2,1039.5 1753.8,1039.7 1755.5,1039.8 1757.1,1040.0 1758.7,1040.2 1760.3,1040.3 1761.9,1040.5 1763.5,1040.7 1765.1,1040.8 1766.7,1041.0 1768.3,1041.2 1769.9,1041.3 1771.6,1041.5 1773.2,1041.6 1774.8,1041.8 1776.4,1042.0 1778.0,1042.1 1779.6,1042.3 1781.2,1042.5 1782.8,1042.6 1784.4,1042.8 1786.0,1042.9 1787.7,1043.1 1789.3,1043.3 1790.9,1043.4 1792.5,1043.6 1794.1,1043.7 1795.7,1043.9 1797.3,1044.1 1798.9,1044.2 1800.5,1044.4 1802.1,1044.5 1803.8,1044.7 1805.4,1044.9 1807.0,1045.0 1808.6,1045.2 1810.2,1045.3 1811.8,1045.5 1813.4,1045.7 1815.0,1045.8 1816.6,1046.0 1818.2,1046.1 1819.9,1046.3 1821.5,1046.4 1823.1,1046.6 1824.7,1046.8 1826.3,1046.9 1827.9,1047.1 1829.5,1047.2 1831.1,1047.4 1832.7,1047.6 1834.3,1047.7 1836.0,1047.9 1837.6,1048.0 1839.2,1048.2 1840.8,1048.3 1842.4,1048.5 1844.0,1048.6 1845.6,1048.8 1847.2,1049.0 1848.8,1049.1 1850.4,1049.3 1852.1,1049.4 1853.7,1049.6 1855.3,1049.7 1856.9,1049.9 1858.5,1050.0 1860.1,1050.2 1861.7,1050.4 1863.3,1050.5 1864.9,1050.7 1866.5,1050.8 1868.2,1051.0 1869.8,1051.1 1871.4,1051.3 1873.0,1051.4 1874.6,1051.6 1876.2,1051.7 1877.8,1051.9"/>
</g>
<g fill="#000"><rect x="191" y="51" width="5.1" height="1109"/><rect x="1876" y="51" width="5.1" height="1109"/><rect x="191" y="51" width="1690.1" height="5.1"/><rect x="191" y="1154.3" width="1690.1" height="5.7"/></g>
<g font-weight="bold" font-size="62" text-anchor="end">
<text class="yl" transform="translate(178.0 80.9) scale(1.02 1.170)">0.5</text>
<text class="yl" transform="translate(179.0 345.9) scale(1.02 1.075)">0.4</text>
<text class="yl" transform="translate(180.3 608.3) scale(1.02 1.075)">0.3</text>
<text class="yl" transform="translate(182.0 871.8) scale(1.02 1.075)">0.2</text>
<text class="yl" transform="translate(179.3 1131.0) scale(1.02 1.090)">0</text>
</g>
<g font-weight="bold" font-size="60" text-anchor="middle">
<text class="xl" transform="translate(195.0 1210.5) scale(0.90 1.07)">0</text>
<text class="xl" transform="translate(526.5 1210.5) scale(0.90 1.07)">10</text>
<text class="xl" transform="translate(864.5 1210.5) scale(0.90 1.07)">20</text>
<text class="xl" transform="translate(1203.3 1210.5) scale(0.90 1.07)">30</text>
<text class="xl" transform="translate(1539.2 1210.5) scale(0.90 1.07)">40</text>
<text class="xl" transform="translate(1875.7 1210.5) scale(0.90 1.07)">50</text>
</g>
<text id="xt" font-weight="bold" font-size="68" text-anchor="middle" transform="translate(1039.7 1272.3) scale(0.9225 1)">Size (nm)</text>
<text id="yt" font-weight="bold" font-size="66.5" text-anchor="middle" xml:space="preserve" style="white-space:pre" transform="translate(85.2 615.2) rotate(-90) scale(1 0.90)">Normalized  Volume  Fraction</text>
<circle cx="1230" cy="305.5" r="8" fill="#3741cf"/>
<path d="M1223 473.5 L1240.6 473.5 L1231.8 489.7 Z" fill="#fb141e"/>
<rect x="1221" y="636.5" width="14" height="13.2" fill="#000"/>
<text class="l1" id="l1_0" font-size="40.4" text-anchor="end" x="1756.5" y="312.9">PI/TiO<tspan font-size="26" dy="5.6">2</tspan><tspan dy="-10.6" dx="3.7"> composite material</tspan></text>
<text class="l2" id="l2_0" font-size="40.6" text-anchor="end" x="1756.5" y="371.9">(TiO<tspan font-size="26" dy="5.6">2</tspan><tspan dy="-5.6"> content=16wt %)</tspan></text>
<text class="l1" id="l1_1" font-size="40.4" text-anchor="end" x="1756.5" y="495.3">PI/TiO<tspan font-size="26" dy="5.6">2</tspan><tspan dy="-10.6" dx="3.7"> composite material</tspan></text>
<text class="l2" id="l2_1" font-size="40.6" text-anchor="end" x="1756.5" y="554.4">(TiO<tspan font-size="26" dy="5.6">2</tspan><tspan dy="-5.6"> content=10wt %)</tspan></text>
<text class="l1" id="l1_2" font-size="40.4" text-anchor="end" x="1756.5" y="656.0">PI/TiO<tspan font-size="26" dy="5.6">2</tspan><tspan dy="-10.6" dx="3.7"> composite material</tspan></text>
<text class="l2" id="l2_2" font-size="40.6" text-anchor="end" x="1756.5" y="714.4">(TiO<tspan font-size="26" dy="5.6">2</tspan><tspan dy="-5.6"> content=2wt %)</tspan></text>
</svg></body></html>
